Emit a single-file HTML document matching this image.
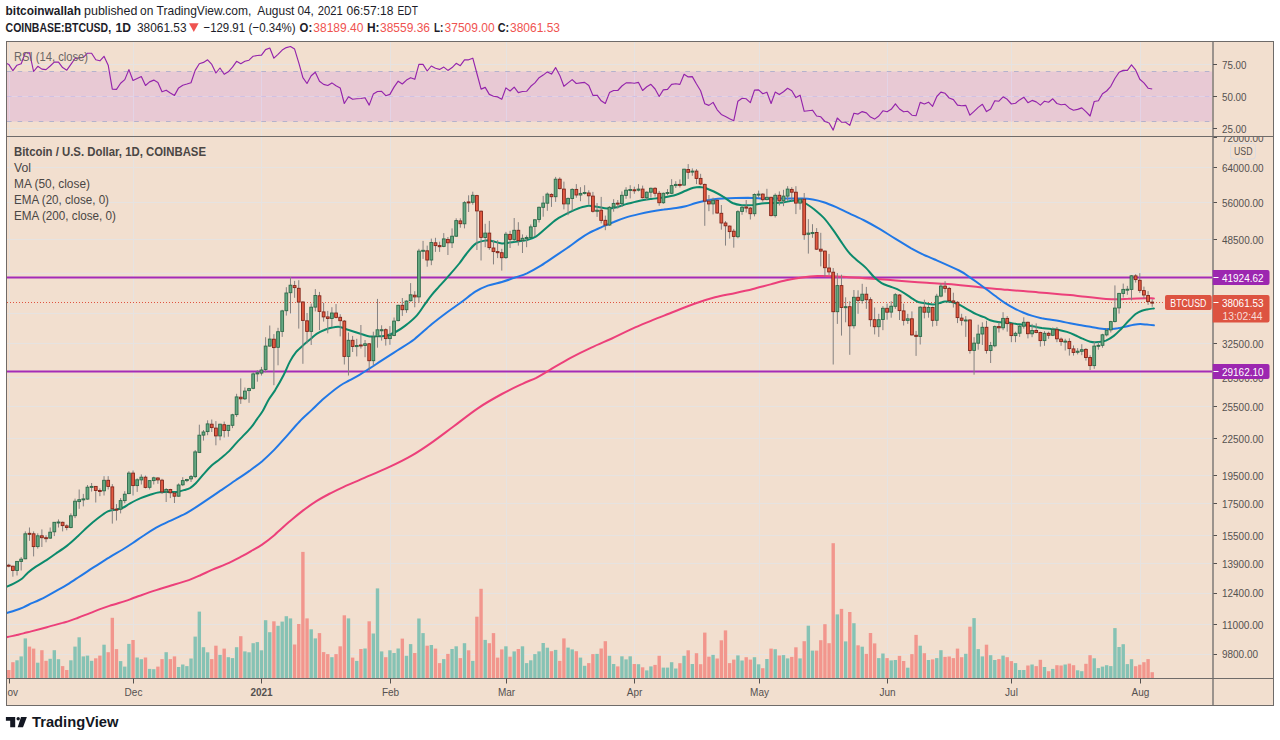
<!DOCTYPE html><html><head><meta charset="utf-8"><title>BTCUSD chart</title><style>html,body{margin:0;padding:0;background:#fff}svg{display:block}</style></head><body><svg width="1280" height="740" viewBox="0 0 1280 740" font-family="Liberation Sans, sans-serif">
<rect width="1280" height="740" fill="#fff"/>
<rect x="6.5" y="41.5" width="1267.0" height="664.0" fill="#f2dfcf"/>
<defs><clipPath id="cm"><rect x="7" y="137" width="1206.0" height="541.5"/></clipPath><clipPath id="cr"><rect x="7" y="42" width="1206.0" height="94.5"/></clipPath><clipPath id="ca"><rect x="1213.5" y="137" width="60" height="541.5"/></clipPath></defs>
<line x1="9.5" y1="42" x2="9.5" y2="678.5" stroke="#e6e3e1" stroke-width="1"/>
<line x1="133.5" y1="42" x2="133.5" y2="678.5" stroke="#e6e3e1" stroke-width="1"/>
<line x1="261.5" y1="42" x2="261.5" y2="678.5" stroke="#e6e3e1" stroke-width="1"/>
<line x1="390.5" y1="42" x2="390.5" y2="678.5" stroke="#e6e3e1" stroke-width="1"/>
<line x1="506.5" y1="42" x2="506.5" y2="678.5" stroke="#e6e3e1" stroke-width="1"/>
<line x1="634.5" y1="42" x2="634.5" y2="678.5" stroke="#e6e3e1" stroke-width="1"/>
<line x1="759.5" y1="42" x2="759.5" y2="678.5" stroke="#e6e3e1" stroke-width="1"/>
<line x1="887.5" y1="42" x2="887.5" y2="678.5" stroke="#e6e3e1" stroke-width="1"/>
<line x1="1011.5" y1="42" x2="1011.5" y2="678.5" stroke="#e6e3e1" stroke-width="1"/>
<line x1="1140.5" y1="42" x2="1140.5" y2="678.5" stroke="#e6e3e1" stroke-width="1"/>
<line x1="7" y1="64.5" x2="1213.5" y2="64.5" stroke="#e6e3e1" stroke-width="1"/>
<line x1="7" y1="96.5" x2="1213.5" y2="96.5" stroke="#e6e3e1" stroke-width="1"/>
<line x1="7" y1="128.5" x2="1213.5" y2="128.5" stroke="#e6e3e1" stroke-width="1"/>
<line x1="7" y1="167.5" x2="1213.5" y2="167.5" stroke="#e6e3e1" stroke-width="1"/>
<line x1="7" y1="202.5" x2="1213.5" y2="202.5" stroke="#e6e3e1" stroke-width="1"/>
<line x1="7" y1="239.5" x2="1213.5" y2="239.5" stroke="#e6e3e1" stroke-width="1"/>
<line x1="7" y1="273.5" x2="1213.5" y2="273.5" stroke="#e6e3e1" stroke-width="1"/>
<line x1="7" y1="313.5" x2="1213.5" y2="313.5" stroke="#e6e3e1" stroke-width="1"/>
<line x1="7" y1="343.5" x2="1213.5" y2="343.5" stroke="#e6e3e1" stroke-width="1"/>
<line x1="7" y1="377.5" x2="1213.5" y2="377.5" stroke="#e6e3e1" stroke-width="1"/>
<line x1="7" y1="406.5" x2="1213.5" y2="406.5" stroke="#e6e3e1" stroke-width="1"/>
<line x1="7" y1="438.5" x2="1213.5" y2="438.5" stroke="#e6e3e1" stroke-width="1"/>
<line x1="7" y1="475.5" x2="1213.5" y2="475.5" stroke="#e6e3e1" stroke-width="1"/>
<line x1="7" y1="503.5" x2="1213.5" y2="503.5" stroke="#e6e3e1" stroke-width="1"/>
<line x1="7" y1="535.5" x2="1213.5" y2="535.5" stroke="#e6e3e1" stroke-width="1"/>
<line x1="7" y1="563.5" x2="1213.5" y2="563.5" stroke="#e6e3e1" stroke-width="1"/>
<line x1="7" y1="593.5" x2="1213.5" y2="593.5" stroke="#e6e3e1" stroke-width="1"/>
<line x1="7" y1="624.5" x2="1213.5" y2="624.5" stroke="#e6e3e1" stroke-width="1"/>
<line x1="7" y1="654.5" x2="1213.5" y2="654.5" stroke="#e6e3e1" stroke-width="1"/>
<rect x="7" y="71.5" width="1205" height="50.0" fill="#e8c9d4"/>
<line x1="9.5" y1="71.5" x2="9.5" y2="121.5" stroke="#e3d3e6" stroke-width="1"/>
<line x1="133.5" y1="71.5" x2="133.5" y2="121.5" stroke="#e3d3e6" stroke-width="1"/>
<line x1="261.5" y1="71.5" x2="261.5" y2="121.5" stroke="#e3d3e6" stroke-width="1"/>
<line x1="390.5" y1="71.5" x2="390.5" y2="121.5" stroke="#e3d3e6" stroke-width="1"/>
<line x1="506.5" y1="71.5" x2="506.5" y2="121.5" stroke="#e3d3e6" stroke-width="1"/>
<line x1="634.5" y1="71.5" x2="634.5" y2="121.5" stroke="#e3d3e6" stroke-width="1"/>
<line x1="759.5" y1="71.5" x2="759.5" y2="121.5" stroke="#e3d3e6" stroke-width="1"/>
<line x1="887.5" y1="71.5" x2="887.5" y2="121.5" stroke="#e3d3e6" stroke-width="1"/>
<line x1="1011.5" y1="71.5" x2="1011.5" y2="121.5" stroke="#e3d3e6" stroke-width="1"/>
<line x1="1140.5" y1="71.5" x2="1140.5" y2="121.5" stroke="#e3d3e6" stroke-width="1"/>
<line x1="7" y1="96.5" x2="1212" y2="96.5" stroke="#e3d3e6" stroke-width="1"/>
<line x1="7" y1="71.5" x2="1212" y2="71.5" stroke="#b4b2cc" stroke-width="1" stroke-dasharray="4.6 6"/>
<line x1="7" y1="96.5" x2="1212" y2="96.5" stroke="#cfc0e3" stroke-width="1" stroke-dasharray="4.6 6"/>
<line x1="7" y1="121.5" x2="1212" y2="121.5" stroke="#b4b2cc" stroke-width="1" stroke-dasharray="4.6 6"/>
<polyline clip-path="url(#cr)" fill="none" stroke="#9424ab" stroke-width="1.15" stroke-linejoin="round" points="6.5,63.3 8.8,64.4 12.9,70.7 17.0,65.2 21.2,63.7 25.3,52.7 29.5,52.7 33.6,71.5 37.8,66.3 41.9,69.1 46.0,69.6 50.2,66.0 54.3,62.1 58.5,62.1 62.6,67.6 66.8,70.2 70.9,64.4 75.0,58.5 79.2,57.9 83.3,57.4 87.5,53.2 91.6,53.2 95.8,59.8 99.9,60.8 104.0,56.3 108.2,65.2 112.3,89.1 116.5,89.4 120.6,83.2 124.8,79.6 128.9,69.6 133.0,80.5 137.2,78.5 141.3,76.6 145.5,85.5 149.6,81.9 153.8,80.1 157.9,82.4 162.0,91.8 166.2,90.2 170.3,92.9 174.5,95.4 178.6,87.9 182.8,85.2 186.9,84.0 191.0,82.7 195.2,70.4 199.3,63.7 203.5,62.4 207.6,59.8 211.8,64.4 215.9,73.0 220.0,68.0 224.2,74.3 228.3,71.8 232.5,67.2 236.6,61.3 240.8,63.7 244.9,61.3 249.0,60.2 253.2,56.2 257.3,55.5 261.5,55.1 265.6,49.6 269.8,48.0 273.9,58.2 278.0,54.3 282.2,50.1 286.3,47.6 290.5,46.5 294.6,49.1 298.8,62.9 302.9,77.7 307.0,83.5 311.2,75.7 315.3,72.2 319.5,81.3 323.6,84.4 327.8,85.5 331.9,82.9 336.0,85.8 340.2,87.9 344.3,103.5 348.5,96.8 352.6,99.3 356.8,98.8 360.9,98.5 365.0,97.7 369.2,105.1 373.3,94.1 377.5,91.5 381.6,91.3 385.8,95.7 389.9,94.4 394.0,87.1 398.2,81.2 402.3,84.0 406.5,80.1 410.6,77.7 414.8,79.3 418.9,64.4 423.0,64.4 427.2,71.0 431.3,66.0 435.5,68.3 439.6,69.4 443.8,67.1 447.9,70.4 452.1,67.6 456.2,63.3 460.3,65.7 464.5,59.8 468.6,59.8 472.8,58.2 476.9,73.5 481.1,89.1 485.2,87.4 489.3,94.4 493.5,96.2 497.6,96.9 501.8,99.3 505.9,87.9 510.1,91.0 514.2,87.1 518.3,92.6 522.5,91.5 526.6,91.3 530.8,86.3 534.9,82.9 539.1,77.7 543.2,75.1 547.3,71.9 551.5,74.1 555.6,67.6 559.8,75.4 563.9,86.3 568.1,82.9 572.2,79.6 576.3,83.5 580.5,82.9 584.6,82.4 588.8,85.5 592.9,95.4 597.1,95.2 601.2,100.8 605.3,103.5 609.5,92.6 613.6,90.5 617.8,90.5 621.9,86.0 626.1,82.9 630.2,82.7 634.3,83.2 638.5,82.4 642.6,90.5 646.8,86.8 650.9,84.3 655.1,89.0 659.2,96.5 663.3,89.9 667.5,89.4 671.6,84.4 675.8,83.7 679.9,84.4 684.1,74.3 688.2,76.9 692.3,76.6 696.5,84.0 700.6,90.7 704.8,103.8 708.9,105.4 713.1,102.4 717.2,109.8 721.3,114.4 725.5,116.5 729.6,118.7 733.8,120.7 737.9,101.2 742.1,98.3 746.2,98.8 750.3,102.7 754.5,90.1 758.6,89.9 762.8,93.7 766.9,92.2 771.1,103.5 775.2,92.1 779.3,94.6 783.5,91.8 787.6,88.3 791.8,90.7 795.9,97.6 800.1,95.2 804.2,111.3 808.3,110.8 812.5,110.2 816.6,116.0 820.8,116.8 824.9,121.5 829.1,123.0 833.2,130.1 837.3,118.0 841.5,122.2 845.6,122.2 849.8,125.4 853.9,113.3 858.1,114.1 862.2,111.6 866.4,112.9 870.5,117.1 874.6,119.1 878.8,116.0 882.9,110.8 887.1,111.8 891.2,109.3 895.4,103.8 899.5,109.0 903.6,111.8 907.8,111.3 911.9,115.2 916.1,115.7 920.2,102.4 924.4,104.0 928.5,102.2 932.6,106.3 936.8,96.5 940.9,92.1 945.1,93.3 949.2,98.0 953.4,99.6 957.5,105.1 961.6,105.8 965.8,105.4 969.9,115.2 974.1,111.3 978.2,107.4 982.4,104.3 986.5,111.6 990.6,109.0 994.8,100.8 998.9,101.2 1003.1,96.8 1007.2,99.3 1011.4,104.0 1015.5,103.2 1019.6,99.9 1023.8,97.2 1027.9,102.7 1032.1,100.4 1036.2,101.9 1040.4,105.1 1044.5,101.2 1048.6,102.2 1052.8,98.8 1056.9,103.5 1061.1,104.8 1065.2,104.3 1069.4,108.2 1073.5,110.2 1077.6,109.4 1081.8,107.9 1085.9,111.6 1090.1,116.0 1094.2,101.5 1098.4,100.7 1102.5,93.7 1106.6,91.0 1110.8,86.3 1114.9,78.5 1119.1,72.2 1123.2,70.4 1127.4,70.4 1131.5,64.8 1135.6,69.9 1139.8,79.3 1143.9,82.9 1148.1,88.2 1152.2,89.0"/>
<g clip-path="url(#cm)">
<rect x="7.05" y="670.0" width="3.4" height="8.0" fill="#f2968d"/>
<rect x="11.19" y="662.2" width="3.4" height="15.8" fill="#f2968d"/>
<rect x="15.34" y="660.3" width="3.4" height="17.7" fill="#86c2b4"/>
<rect x="19.48" y="656.4" width="3.4" height="21.6" fill="#86c2b4"/>
<rect x="23.62" y="638.4" width="3.4" height="39.6" fill="#86c2b4"/>
<rect x="27.77" y="646.6" width="3.4" height="31.4" fill="#f2968d"/>
<rect x="31.91" y="648.6" width="3.4" height="29.4" fill="#f2968d"/>
<rect x="36.05" y="662.7" width="3.4" height="15.3" fill="#86c2b4"/>
<rect x="40.19" y="650.2" width="3.4" height="27.8" fill="#f2968d"/>
<rect x="44.34" y="660.8" width="3.4" height="17.2" fill="#f2968d"/>
<rect x="48.48" y="658.8" width="3.4" height="19.2" fill="#86c2b4"/>
<rect x="52.62" y="650.2" width="3.4" height="27.8" fill="#86c2b4"/>
<rect x="56.77" y="659.2" width="3.4" height="18.8" fill="#86c2b4"/>
<rect x="60.91" y="666.1" width="3.4" height="11.9" fill="#f2968d"/>
<rect x="65.05" y="670.0" width="3.4" height="8.0" fill="#f2968d"/>
<rect x="69.19" y="660.3" width="3.4" height="17.7" fill="#86c2b4"/>
<rect x="73.34" y="646.6" width="3.4" height="31.4" fill="#86c2b4"/>
<rect x="77.48" y="637.3" width="3.4" height="40.7" fill="#86c2b4"/>
<rect x="81.62" y="656.4" width="3.4" height="21.6" fill="#86c2b4"/>
<rect x="85.77" y="655.6" width="3.4" height="22.4" fill="#86c2b4"/>
<rect x="89.91" y="660.8" width="3.4" height="17.2" fill="#86c2b4"/>
<rect x="94.05" y="658.3" width="3.4" height="19.7" fill="#f2968d"/>
<rect x="98.20" y="655.6" width="3.4" height="22.4" fill="#f2968d"/>
<rect x="102.34" y="644.7" width="3.4" height="33.3" fill="#86c2b4"/>
<rect x="106.48" y="652.2" width="3.4" height="25.8" fill="#f2968d"/>
<rect x="110.62" y="617.8" width="3.4" height="60.2" fill="#f2968d"/>
<rect x="114.77" y="649.1" width="3.4" height="28.9" fill="#f2968d"/>
<rect x="118.91" y="661.1" width="3.4" height="16.9" fill="#86c2b4"/>
<rect x="123.05" y="666.6" width="3.4" height="11.4" fill="#86c2b4"/>
<rect x="127.20" y="643.9" width="3.4" height="34.1" fill="#86c2b4"/>
<rect x="131.34" y="640.0" width="3.4" height="38.0" fill="#f2968d"/>
<rect x="135.48" y="657.5" width="3.4" height="20.5" fill="#86c2b4"/>
<rect x="139.63" y="659.2" width="3.4" height="18.8" fill="#86c2b4"/>
<rect x="143.77" y="657.5" width="3.4" height="20.5" fill="#f2968d"/>
<rect x="147.91" y="668.9" width="3.4" height="9.1" fill="#86c2b4"/>
<rect x="152.06" y="669.2" width="3.4" height="8.8" fill="#86c2b4"/>
<rect x="156.20" y="666.6" width="3.4" height="11.4" fill="#f2968d"/>
<rect x="160.34" y="659.1" width="3.4" height="18.9" fill="#f2968d"/>
<rect x="164.48" y="652.2" width="3.4" height="25.8" fill="#86c2b4"/>
<rect x="168.63" y="659.1" width="3.4" height="18.9" fill="#f2968d"/>
<rect x="172.77" y="656.4" width="3.4" height="21.6" fill="#f2968d"/>
<rect x="176.91" y="667.0" width="3.4" height="11.0" fill="#86c2b4"/>
<rect x="181.06" y="664.5" width="3.4" height="13.5" fill="#86c2b4"/>
<rect x="185.20" y="666.1" width="3.4" height="11.9" fill="#86c2b4"/>
<rect x="189.34" y="658.5" width="3.4" height="19.5" fill="#86c2b4"/>
<rect x="193.49" y="636.6" width="3.4" height="41.4" fill="#86c2b4"/>
<rect x="197.63" y="611.6" width="3.4" height="66.4" fill="#86c2b4"/>
<rect x="201.77" y="647.2" width="3.4" height="30.8" fill="#86c2b4"/>
<rect x="205.91" y="652.3" width="3.4" height="25.7" fill="#86c2b4"/>
<rect x="210.06" y="659.1" width="3.4" height="18.9" fill="#f2968d"/>
<rect x="214.20" y="645.7" width="3.4" height="32.3" fill="#f2968d"/>
<rect x="218.34" y="654.9" width="3.4" height="23.1" fill="#86c2b4"/>
<rect x="222.49" y="648.6" width="3.4" height="29.4" fill="#f2968d"/>
<rect x="226.63" y="657.2" width="3.4" height="20.8" fill="#86c2b4"/>
<rect x="230.77" y="658.1" width="3.4" height="19.9" fill="#86c2b4"/>
<rect x="234.91" y="647.2" width="3.4" height="30.8" fill="#86c2b4"/>
<rect x="239.06" y="636.2" width="3.4" height="41.8" fill="#f2968d"/>
<rect x="243.20" y="651.4" width="3.4" height="26.6" fill="#86c2b4"/>
<rect x="247.34" y="652.3" width="3.4" height="25.7" fill="#86c2b4"/>
<rect x="251.49" y="643.2" width="3.4" height="34.8" fill="#86c2b4"/>
<rect x="255.63" y="642.1" width="3.4" height="35.9" fill="#86c2b4"/>
<rect x="259.77" y="650.3" width="3.4" height="27.7" fill="#86c2b4"/>
<rect x="263.92" y="620.2" width="3.4" height="57.8" fill="#86c2b4"/>
<rect x="268.06" y="632.2" width="3.4" height="45.8" fill="#86c2b4"/>
<rect x="272.20" y="621.3" width="3.4" height="56.7" fill="#f2968d"/>
<rect x="276.34" y="625.8" width="3.4" height="52.2" fill="#86c2b4"/>
<rect x="280.49" y="621.6" width="3.4" height="56.4" fill="#86c2b4"/>
<rect x="284.63" y="616.2" width="3.4" height="61.8" fill="#86c2b4"/>
<rect x="288.77" y="618.4" width="3.4" height="59.6" fill="#86c2b4"/>
<rect x="292.92" y="644.5" width="3.4" height="33.5" fill="#f2968d"/>
<rect x="297.06" y="624.0" width="3.4" height="54.0" fill="#f2968d"/>
<rect x="301.20" y="551.9" width="3.4" height="126.1" fill="#f2968d"/>
<rect x="305.35" y="618.4" width="3.4" height="59.6" fill="#f2968d"/>
<rect x="309.49" y="629.3" width="3.4" height="48.7" fill="#86c2b4"/>
<rect x="313.63" y="638.4" width="3.4" height="39.6" fill="#86c2b4"/>
<rect x="317.77" y="633.1" width="3.4" height="44.9" fill="#f2968d"/>
<rect x="321.92" y="652.1" width="3.4" height="25.9" fill="#f2968d"/>
<rect x="326.06" y="654.1" width="3.4" height="23.9" fill="#f2968d"/>
<rect x="330.20" y="657.2" width="3.4" height="20.8" fill="#86c2b4"/>
<rect x="334.35" y="654.1" width="3.4" height="23.9" fill="#f2968d"/>
<rect x="338.49" y="646.3" width="3.4" height="31.7" fill="#f2968d"/>
<rect x="342.63" y="615.3" width="3.4" height="62.7" fill="#f2968d"/>
<rect x="346.78" y="618.4" width="3.4" height="59.6" fill="#86c2b4"/>
<rect x="350.92" y="657.6" width="3.4" height="20.4" fill="#f2968d"/>
<rect x="355.06" y="660.9" width="3.4" height="17.1" fill="#86c2b4"/>
<rect x="359.20" y="649.0" width="3.4" height="29.0" fill="#f2968d"/>
<rect x="363.35" y="648.5" width="3.4" height="29.5" fill="#86c2b4"/>
<rect x="367.49" y="621.3" width="3.4" height="56.7" fill="#f2968d"/>
<rect x="371.63" y="633.5" width="3.4" height="44.5" fill="#86c2b4"/>
<rect x="375.78" y="588.4" width="3.4" height="89.6" fill="#86c2b4"/>
<rect x="379.92" y="651.4" width="3.4" height="26.6" fill="#86c2b4"/>
<rect x="384.06" y="657.2" width="3.4" height="20.8" fill="#f2968d"/>
<rect x="388.21" y="650.3" width="3.4" height="27.7" fill="#86c2b4"/>
<rect x="392.35" y="653.0" width="3.4" height="25.0" fill="#86c2b4"/>
<rect x="396.49" y="648.5" width="3.4" height="29.5" fill="#86c2b4"/>
<rect x="400.63" y="638.6" width="3.4" height="39.4" fill="#f2968d"/>
<rect x="404.78" y="655.8" width="3.4" height="22.2" fill="#86c2b4"/>
<rect x="408.92" y="644.1" width="3.4" height="33.9" fill="#86c2b4"/>
<rect x="413.06" y="653.0" width="3.4" height="25.0" fill="#f2968d"/>
<rect x="417.21" y="618.5" width="3.4" height="59.5" fill="#86c2b4"/>
<rect x="421.35" y="633.1" width="3.4" height="44.9" fill="#86c2b4"/>
<rect x="425.49" y="645.7" width="3.4" height="32.3" fill="#f2968d"/>
<rect x="429.64" y="645.0" width="3.4" height="33.0" fill="#86c2b4"/>
<rect x="433.78" y="648.6" width="3.4" height="29.4" fill="#f2968d"/>
<rect x="437.92" y="663.1" width="3.4" height="14.9" fill="#f2968d"/>
<rect x="442.06" y="659.1" width="3.4" height="18.9" fill="#86c2b4"/>
<rect x="446.21" y="653.9" width="3.4" height="24.1" fill="#f2968d"/>
<rect x="450.35" y="649.0" width="3.4" height="29.0" fill="#86c2b4"/>
<rect x="454.49" y="646.3" width="3.4" height="31.7" fill="#86c2b4"/>
<rect x="458.64" y="658.1" width="3.4" height="19.9" fill="#f2968d"/>
<rect x="462.78" y="643.2" width="3.4" height="34.8" fill="#86c2b4"/>
<rect x="466.92" y="650.3" width="3.4" height="27.7" fill="#f2968d"/>
<rect x="471.07" y="660.9" width="3.4" height="17.1" fill="#86c2b4"/>
<rect x="475.21" y="616.7" width="3.4" height="61.3" fill="#f2968d"/>
<rect x="479.35" y="588.8" width="3.4" height="89.2" fill="#f2968d"/>
<rect x="483.50" y="639.9" width="3.4" height="38.1" fill="#86c2b4"/>
<rect x="487.64" y="643.2" width="3.4" height="34.8" fill="#f2968d"/>
<rect x="491.78" y="633.1" width="3.4" height="44.9" fill="#f2968d"/>
<rect x="495.92" y="657.6" width="3.4" height="20.4" fill="#f2968d"/>
<rect x="500.07" y="649.4" width="3.4" height="28.6" fill="#f2968d"/>
<rect x="504.21" y="646.3" width="3.4" height="31.7" fill="#86c2b4"/>
<rect x="508.35" y="656.7" width="3.4" height="21.3" fill="#f2968d"/>
<rect x="512.50" y="651.4" width="3.4" height="26.6" fill="#86c2b4"/>
<rect x="516.64" y="649.0" width="3.4" height="29.0" fill="#f2968d"/>
<rect x="520.78" y="646.3" width="3.4" height="31.7" fill="#86c2b4"/>
<rect x="524.92" y="663.1" width="3.4" height="14.9" fill="#86c2b4"/>
<rect x="529.07" y="660.3" width="3.4" height="17.7" fill="#86c2b4"/>
<rect x="533.21" y="654.1" width="3.4" height="23.9" fill="#86c2b4"/>
<rect x="537.35" y="651.4" width="3.4" height="26.6" fill="#86c2b4"/>
<rect x="541.50" y="643.0" width="3.4" height="35.0" fill="#86c2b4"/>
<rect x="545.64" y="647.7" width="3.4" height="30.3" fill="#86c2b4"/>
<rect x="549.78" y="651.2" width="3.4" height="26.8" fill="#f2968d"/>
<rect x="553.93" y="649.9" width="3.4" height="28.1" fill="#86c2b4"/>
<rect x="558.07" y="660.9" width="3.4" height="17.1" fill="#f2968d"/>
<rect x="562.21" y="638.4" width="3.4" height="39.6" fill="#f2968d"/>
<rect x="566.35" y="647.6" width="3.4" height="30.4" fill="#86c2b4"/>
<rect x="570.50" y="649.4" width="3.4" height="28.6" fill="#86c2b4"/>
<rect x="574.64" y="651.2" width="3.4" height="26.8" fill="#f2968d"/>
<rect x="578.78" y="657.6" width="3.4" height="20.4" fill="#86c2b4"/>
<rect x="582.93" y="665.8" width="3.4" height="12.2" fill="#86c2b4"/>
<rect x="587.07" y="663.1" width="3.4" height="14.9" fill="#f2968d"/>
<rect x="591.21" y="654.1" width="3.4" height="23.9" fill="#f2968d"/>
<rect x="595.36" y="653.9" width="3.4" height="24.1" fill="#86c2b4"/>
<rect x="599.50" y="648.5" width="3.4" height="29.5" fill="#f2968d"/>
<rect x="603.64" y="641.2" width="3.4" height="36.8" fill="#f2968d"/>
<rect x="607.78" y="655.8" width="3.4" height="22.2" fill="#86c2b4"/>
<rect x="611.93" y="664.0" width="3.4" height="14.0" fill="#86c2b4"/>
<rect x="616.07" y="666.4" width="3.4" height="11.6" fill="#f2968d"/>
<rect x="620.21" y="656.3" width="3.4" height="21.7" fill="#86c2b4"/>
<rect x="624.36" y="659.4" width="3.4" height="18.6" fill="#86c2b4"/>
<rect x="628.50" y="656.3" width="3.4" height="21.7" fill="#86c2b4"/>
<rect x="632.64" y="664.0" width="3.4" height="14.0" fill="#f2968d"/>
<rect x="636.79" y="664.2" width="3.4" height="13.8" fill="#86c2b4"/>
<rect x="640.93" y="667.3" width="3.4" height="10.7" fill="#f2968d"/>
<rect x="645.07" y="670.4" width="3.4" height="7.6" fill="#86c2b4"/>
<rect x="649.21" y="666.4" width="3.4" height="11.6" fill="#86c2b4"/>
<rect x="653.36" y="664.9" width="3.4" height="13.1" fill="#f2968d"/>
<rect x="657.50" y="655.8" width="3.4" height="22.2" fill="#f2968d"/>
<rect x="661.64" y="667.6" width="3.4" height="10.4" fill="#86c2b4"/>
<rect x="665.79" y="667.6" width="3.4" height="10.4" fill="#86c2b4"/>
<rect x="669.93" y="662.2" width="3.4" height="15.8" fill="#86c2b4"/>
<rect x="674.07" y="668.5" width="3.4" height="9.5" fill="#86c2b4"/>
<rect x="678.22" y="663.2" width="3.4" height="14.8" fill="#f2968d"/>
<rect x="682.36" y="655.8" width="3.4" height="22.2" fill="#86c2b4"/>
<rect x="686.50" y="650.3" width="3.4" height="27.7" fill="#f2968d"/>
<rect x="690.64" y="664.0" width="3.4" height="14.0" fill="#86c2b4"/>
<rect x="694.79" y="653.2" width="3.4" height="24.8" fill="#f2968d"/>
<rect x="698.93" y="664.2" width="3.4" height="13.8" fill="#f2968d"/>
<rect x="703.07" y="632.6" width="3.4" height="45.4" fill="#f2968d"/>
<rect x="707.22" y="656.7" width="3.4" height="21.3" fill="#f2968d"/>
<rect x="711.36" y="654.9" width="3.4" height="23.1" fill="#86c2b4"/>
<rect x="715.50" y="658.5" width="3.4" height="19.5" fill="#f2968d"/>
<rect x="719.65" y="640.3" width="3.4" height="37.7" fill="#f2968d"/>
<rect x="723.79" y="630.4" width="3.4" height="47.6" fill="#f2968d"/>
<rect x="727.93" y="663.1" width="3.4" height="14.9" fill="#f2968d"/>
<rect x="732.07" y="659.6" width="3.4" height="18.4" fill="#f2968d"/>
<rect x="736.22" y="655.4" width="3.4" height="22.6" fill="#86c2b4"/>
<rect x="740.36" y="660.5" width="3.4" height="17.5" fill="#86c2b4"/>
<rect x="744.50" y="657.2" width="3.4" height="20.8" fill="#f2968d"/>
<rect x="748.65" y="659.6" width="3.4" height="18.4" fill="#f2968d"/>
<rect x="752.79" y="657.2" width="3.4" height="20.8" fill="#86c2b4"/>
<rect x="756.93" y="664.3" width="3.4" height="13.7" fill="#86c2b4"/>
<rect x="761.08" y="668.2" width="3.4" height="9.8" fill="#f2968d"/>
<rect x="765.22" y="659.0" width="3.4" height="19.0" fill="#86c2b4"/>
<rect x="769.36" y="648.6" width="3.4" height="29.4" fill="#f2968d"/>
<rect x="773.50" y="649.2" width="3.4" height="28.8" fill="#86c2b4"/>
<rect x="777.65" y="655.5" width="3.4" height="22.5" fill="#f2968d"/>
<rect x="781.79" y="655.1" width="3.4" height="22.9" fill="#86c2b4"/>
<rect x="785.93" y="658.4" width="3.4" height="19.6" fill="#86c2b4"/>
<rect x="790.08" y="656.9" width="3.4" height="21.1" fill="#f2968d"/>
<rect x="794.22" y="647.3" width="3.4" height="30.7" fill="#f2968d"/>
<rect x="798.36" y="658.4" width="3.4" height="19.6" fill="#86c2b4"/>
<rect x="802.51" y="641.2" width="3.4" height="36.8" fill="#f2968d"/>
<rect x="806.65" y="625.7" width="3.4" height="52.3" fill="#86c2b4"/>
<rect x="810.79" y="650.6" width="3.4" height="27.4" fill="#86c2b4"/>
<rect x="814.93" y="650.6" width="3.4" height="27.4" fill="#f2968d"/>
<rect x="819.08" y="640.2" width="3.4" height="37.8" fill="#f2968d"/>
<rect x="823.22" y="624.2" width="3.4" height="53.8" fill="#f2968d"/>
<rect x="827.36" y="643.2" width="3.4" height="34.8" fill="#f2968d"/>
<rect x="831.51" y="543.2" width="3.4" height="134.8" fill="#f2968d"/>
<rect x="835.65" y="614.4" width="3.4" height="63.6" fill="#86c2b4"/>
<rect x="839.79" y="608.9" width="3.4" height="69.1" fill="#f2968d"/>
<rect x="843.94" y="641.4" width="3.4" height="36.6" fill="#86c2b4"/>
<rect x="848.08" y="612.0" width="3.4" height="66.0" fill="#f2968d"/>
<rect x="852.22" y="623.2" width="3.4" height="54.8" fill="#86c2b4"/>
<rect x="856.36" y="645.3" width="3.4" height="32.7" fill="#f2968d"/>
<rect x="860.51" y="646.7" width="3.4" height="31.3" fill="#86c2b4"/>
<rect x="864.65" y="653.9" width="3.4" height="24.1" fill="#f2968d"/>
<rect x="868.79" y="633.0" width="3.4" height="45.0" fill="#f2968d"/>
<rect x="872.94" y="643.4" width="3.4" height="34.6" fill="#f2968d"/>
<rect x="877.08" y="658.1" width="3.4" height="19.9" fill="#86c2b4"/>
<rect x="881.22" y="653.5" width="3.4" height="24.5" fill="#86c2b4"/>
<rect x="885.37" y="658.1" width="3.4" height="19.9" fill="#f2968d"/>
<rect x="889.51" y="660.4" width="3.4" height="17.6" fill="#86c2b4"/>
<rect x="893.65" y="660.0" width="3.4" height="18.0" fill="#86c2b4"/>
<rect x="897.79" y="655.9" width="3.4" height="22.1" fill="#f2968d"/>
<rect x="901.94" y="661.0" width="3.4" height="17.0" fill="#f2968d"/>
<rect x="906.08" y="667.7" width="3.4" height="10.3" fill="#86c2b4"/>
<rect x="910.22" y="654.1" width="3.4" height="23.9" fill="#f2968d"/>
<rect x="914.37" y="634.9" width="3.4" height="43.1" fill="#f2968d"/>
<rect x="918.51" y="645.7" width="3.4" height="32.3" fill="#86c2b4"/>
<rect x="922.65" y="653.2" width="3.4" height="24.8" fill="#f2968d"/>
<rect x="926.80" y="660.0" width="3.4" height="18.0" fill="#86c2b4"/>
<rect x="930.94" y="659.4" width="3.4" height="18.6" fill="#f2968d"/>
<rect x="935.08" y="658.1" width="3.4" height="19.9" fill="#86c2b4"/>
<rect x="939.22" y="650.2" width="3.4" height="27.8" fill="#86c2b4"/>
<rect x="943.37" y="656.9" width="3.4" height="21.1" fill="#f2968d"/>
<rect x="947.51" y="656.5" width="3.4" height="21.5" fill="#f2968d"/>
<rect x="951.65" y="658.1" width="3.4" height="19.9" fill="#f2968d"/>
<rect x="955.80" y="648.6" width="3.4" height="29.4" fill="#f2968d"/>
<rect x="959.94" y="657.2" width="3.4" height="20.8" fill="#f2968d"/>
<rect x="964.08" y="653.8" width="3.4" height="24.2" fill="#86c2b4"/>
<rect x="968.23" y="626.7" width="3.4" height="51.3" fill="#f2968d"/>
<rect x="972.37" y="618.1" width="3.4" height="59.9" fill="#86c2b4"/>
<rect x="976.51" y="649.1" width="3.4" height="28.9" fill="#86c2b4"/>
<rect x="980.65" y="656.4" width="3.4" height="21.6" fill="#86c2b4"/>
<rect x="984.80" y="644.7" width="3.4" height="33.3" fill="#f2968d"/>
<rect x="988.94" y="655.2" width="3.4" height="22.8" fill="#86c2b4"/>
<rect x="993.08" y="660.0" width="3.4" height="18.0" fill="#86c2b4"/>
<rect x="997.23" y="659.1" width="3.4" height="18.9" fill="#f2968d"/>
<rect x="1001.37" y="655.6" width="3.4" height="22.4" fill="#86c2b4"/>
<rect x="1005.51" y="657.2" width="3.4" height="20.8" fill="#f2968d"/>
<rect x="1009.66" y="661.1" width="3.4" height="16.9" fill="#f2968d"/>
<rect x="1013.80" y="663.1" width="3.4" height="14.9" fill="#86c2b4"/>
<rect x="1017.94" y="670.0" width="3.4" height="8.0" fill="#86c2b4"/>
<rect x="1022.08" y="670.0" width="3.4" height="8.0" fill="#86c2b4"/>
<rect x="1026.23" y="665.5" width="3.4" height="12.5" fill="#f2968d"/>
<rect x="1030.37" y="664.5" width="3.4" height="13.5" fill="#86c2b4"/>
<rect x="1034.51" y="666.1" width="3.4" height="11.9" fill="#f2968d"/>
<rect x="1038.66" y="659.8" width="3.4" height="18.2" fill="#f2968d"/>
<rect x="1042.80" y="667.0" width="3.4" height="11.0" fill="#86c2b4"/>
<rect x="1046.94" y="671.2" width="3.4" height="6.8" fill="#f2968d"/>
<rect x="1051.09" y="668.9" width="3.4" height="9.1" fill="#86c2b4"/>
<rect x="1055.23" y="665.2" width="3.4" height="12.8" fill="#f2968d"/>
<rect x="1059.37" y="665.5" width="3.4" height="12.5" fill="#f2968d"/>
<rect x="1063.51" y="664.5" width="3.4" height="13.5" fill="#86c2b4"/>
<rect x="1067.66" y="663.6" width="3.4" height="14.4" fill="#f2968d"/>
<rect x="1071.80" y="665.2" width="3.4" height="12.8" fill="#f2968d"/>
<rect x="1075.94" y="670.3" width="3.4" height="7.7" fill="#86c2b4"/>
<rect x="1080.09" y="671.2" width="3.4" height="6.8" fill="#86c2b4"/>
<rect x="1084.23" y="663.8" width="3.4" height="14.2" fill="#f2968d"/>
<rect x="1088.37" y="655.2" width="3.4" height="22.8" fill="#f2968d"/>
<rect x="1092.52" y="658.3" width="3.4" height="19.7" fill="#86c2b4"/>
<rect x="1096.66" y="668.1" width="3.4" height="9.9" fill="#86c2b4"/>
<rect x="1100.80" y="666.6" width="3.4" height="11.4" fill="#86c2b4"/>
<rect x="1104.94" y="665.2" width="3.4" height="12.8" fill="#86c2b4"/>
<rect x="1109.09" y="666.1" width="3.4" height="11.9" fill="#86c2b4"/>
<rect x="1113.23" y="628.1" width="3.4" height="49.9" fill="#86c2b4"/>
<rect x="1117.37" y="647.0" width="3.4" height="31.0" fill="#86c2b4"/>
<rect x="1121.52" y="644.2" width="3.4" height="33.8" fill="#86c2b4"/>
<rect x="1125.66" y="664.1" width="3.4" height="13.9" fill="#86c2b4"/>
<rect x="1129.80" y="659.2" width="3.4" height="18.8" fill="#86c2b4"/>
<rect x="1133.95" y="666.2" width="3.4" height="11.8" fill="#f2968d"/>
<rect x="1138.09" y="664.7" width="3.4" height="13.3" fill="#f2968d"/>
<rect x="1142.23" y="662.2" width="3.4" height="15.8" fill="#f2968d"/>
<rect x="1146.38" y="659.1" width="3.4" height="18.9" fill="#f2968d"/>
<rect x="1150.52" y="672.2" width="3.4" height="5.8" fill="#f2968d"/>
</g>
<line x1="7" y1="277.4" x2="1213.5" y2="277.4" stroke="#a32cb8" stroke-width="2"/>
<line x1="7" y1="371.5" x2="1213.5" y2="371.5" stroke="#a32cb8" stroke-width="2"/>
<line x1="7" y1="302.5" x2="1213.5" y2="302.5" stroke="#e0533f" stroke-width="1" stroke-dasharray="1 2"/>
<g clip-path="url(#cm)" fill="none" stroke-width="2" stroke-linejoin="round" stroke-linecap="round">
<path d="M6.2,637.3C7.8,637.0 12.8,635.9 15.6,635.3C18.5,634.6 20.8,634.1 23.4,633.4C26.0,632.8 27.3,632.4 31.2,631.4C35.2,630.3 41.7,628.6 46.9,627.2C52.1,625.7 58.9,623.9 62.5,622.9C66.1,621.8 66.1,622.0 68.8,621.1C71.4,620.3 74.0,619.3 78.1,617.8C82.3,616.2 88.5,613.6 93.8,611.6C99.0,609.6 104.2,607.6 109.4,605.9C114.6,604.1 121.1,602.4 125.0,601.1C128.9,599.8 130.2,599.2 132.8,598.3C135.4,597.4 136.7,596.8 140.6,595.5C144.5,594.1 151.0,591.8 156.2,590.1C161.5,588.4 166.5,587.0 171.9,585.3C177.3,583.7 183.9,581.8 188.8,580.1C193.6,578.4 197.1,576.7 200.9,575.0C204.8,573.3 207.6,571.7 211.9,569.9C216.2,568.0 221.6,566.1 226.5,563.9C231.4,561.7 236.8,558.9 241.1,556.7C245.4,554.5 248.5,552.6 252.0,550.5C255.5,548.5 258.3,547.2 262.1,544.6C265.8,542.0 270.2,538.6 274.6,534.9C279.0,531.2 284.1,526.2 288.6,522.3C293.2,518.5 296.9,515.2 301.6,511.6C306.3,508.0 312.0,503.9 316.8,500.9C321.5,497.9 325.5,495.9 330.0,493.5C334.5,491.2 338.0,489.4 343.8,486.8C349.5,484.2 356.9,481.2 364.4,477.9C371.8,474.7 380.4,471.2 388.4,467.4C396.5,463.6 405.1,459.4 412.5,455.1C420.0,450.8 426.3,446.4 433.1,441.6C440.0,436.8 446.3,431.8 453.8,426.3C461.2,420.7 469.8,413.7 477.8,408.3C485.8,402.9 494.4,398.1 501.9,394.0C509.3,389.9 516.8,386.5 522.5,383.8C528.2,381.0 531.7,380.1 536.3,377.8C540.8,375.4 544.3,373.1 550.0,369.8C555.7,366.5 563.8,361.6 570.6,357.9C577.5,354.2 584.4,350.8 591.3,347.6C598.1,344.4 605.0,341.6 611.9,338.5C618.8,335.3 625.6,331.8 632.5,328.7C639.4,325.6 646.3,322.8 653.1,319.9C660.0,317.1 666.9,314.6 673.8,311.8C680.6,309.1 687.5,306.1 694.4,303.7C701.3,301.2 708.1,299.0 715.0,297.2C721.9,295.4 729.3,294.3 735.6,292.9C742.0,291.6 747.2,290.5 753.1,289.0C758.9,287.6 765.1,285.8 770.6,284.4C776.2,282.9 781.0,281.4 786.2,280.3C791.5,279.1 796.7,278.2 801.9,277.5C807.1,276.8 812.3,276.3 817.5,276.1C822.7,275.9 827.9,276.1 833.1,276.3C838.3,276.5 843.5,277.0 848.8,277.3C854.0,277.6 859.2,277.8 864.4,278.2C869.6,278.5 874.8,278.9 880.0,279.2C885.2,279.6 890.4,280.1 895.6,280.5C900.8,280.9 906.0,281.3 911.2,281.7C916.5,282.1 921.5,282.4 926.9,282.8C932.3,283.1 938.1,283.4 943.8,283.8C949.4,284.2 955.2,284.7 960.6,285.2C966.0,285.7 971.0,286.2 976.2,286.7C981.5,287.3 986.7,287.9 991.9,288.4C997.1,288.9 1002.3,289.4 1007.5,289.8C1012.7,290.3 1017.9,290.7 1023.1,291.1C1028.3,291.5 1033.5,291.9 1038.8,292.4C1044.0,292.8 1049.2,293.3 1054.4,293.7C1059.6,294.2 1064.8,294.6 1070.0,295.1C1075.2,295.6 1080.4,296.3 1085.6,296.8C1090.8,297.4 1096.9,298.0 1101.2,298.4C1105.6,298.8 1108.6,299.0 1111.6,299.2C1114.5,299.3 1116.0,299.3 1118.7,299.2C1121.5,299.2 1125.0,298.9 1128.1,298.8C1131.2,298.6 1134.4,298.5 1137.5,298.4C1140.6,298.3 1144.1,298.3 1146.9,298.3C1149.6,298.3 1152.7,298.4 1153.9,298.4" stroke="#ec407a"/>
<path d="M6.2,613.1C7.8,612.6 12.8,611.2 15.6,610.2C18.5,609.3 20.8,608.4 23.4,607.3C26.0,606.2 28.6,604.7 31.2,603.4C33.9,602.2 36.5,601.3 39.1,600.0C41.7,598.8 44.0,597.7 46.9,596.1C49.7,594.6 52.9,592.8 56.2,590.9C59.6,589.0 63.5,587.0 67.2,584.7C70.8,582.5 74.7,579.8 78.1,577.5C81.5,575.3 84.2,573.5 87.5,571.3C90.8,569.1 94.4,566.9 98.0,564.6C101.7,562.2 105.4,559.8 109.4,557.4C113.3,554.9 118.0,552.4 121.9,550.0C125.8,547.6 129.2,545.4 132.8,543.0C136.5,540.6 139.8,538.0 143.8,535.5C147.7,532.9 152.1,530.1 156.2,527.7C160.4,525.4 164.6,523.4 168.8,521.4C172.9,519.4 177.6,517.5 181.2,515.7C184.9,513.9 183.7,515.1 190.6,510.7C197.6,506.3 215.4,494.1 222.8,489.1C230.3,484.0 230.9,483.5 235.3,480.5C239.7,477.5 244.9,474.1 249.4,470.9C253.8,467.7 257.7,464.9 261.9,461.4C266.0,457.8 270.2,453.9 274.4,449.6C278.5,445.4 282.7,440.5 286.9,435.8C291.0,431.2 295.2,426.0 299.4,421.7C303.5,417.4 307.7,413.9 311.9,409.9C316.0,406.0 319.7,402.1 324.4,398.1C329.1,394.0 335.8,388.6 340.0,385.7C344.2,382.7 346.1,382.2 349.4,380.4C352.6,378.6 356.1,376.8 359.5,374.8C362.9,372.8 366.1,370.7 369.7,368.4C373.3,366.1 376.5,363.9 381.1,360.9C385.7,357.9 391.6,354.1 397.2,350.5C402.7,346.9 408.6,343.6 414.4,339.2C420.1,334.8 426.1,328.8 431.6,324.3C437.0,319.8 442.2,315.9 447.2,312.2C452.1,308.6 456.6,305.7 461.2,302.3C465.9,298.9 470.9,294.4 475.3,291.6C479.7,288.9 483.4,287.2 487.8,285.6C492.2,284.0 497.4,283.3 501.9,282.0C506.3,280.7 510.2,279.2 514.4,277.8C518.5,276.3 522.4,275.3 526.9,273.3C531.3,271.2 536.0,268.6 540.9,265.6C545.9,262.6 551.9,258.2 556.6,255.1C561.2,252.0 564.9,249.5 568.8,246.9C572.6,244.2 576.0,241.5 579.4,239.2C582.7,236.9 585.1,235.2 588.8,233.2C592.4,231.2 597.1,229.2 601.2,227.3C605.4,225.5 609.6,223.6 613.8,222.0C617.9,220.3 622.1,218.7 626.2,217.4C630.4,216.1 634.6,215.1 638.8,214.1C642.9,213.1 647.1,212.2 651.2,211.4C655.4,210.6 659.6,210.0 663.8,209.5C667.9,208.9 672.6,208.5 676.2,208.0C679.9,207.5 682.5,207.1 685.6,206.3C688.8,205.5 691.9,204.2 695.0,203.3C698.1,202.4 701.2,201.6 704.4,200.9C707.5,200.2 710.6,199.7 713.8,199.3C716.9,198.9 719.5,198.7 723.1,198.5C726.8,198.3 731.5,198.1 735.6,198.0C739.8,197.9 744.0,197.8 748.1,197.8C752.3,197.9 756.9,198.2 760.6,198.4C764.4,198.5 766.4,198.6 770.6,198.7C774.9,198.7 781.0,198.5 786.2,198.5C791.5,198.5 797.4,198.4 801.9,198.6C806.3,198.7 809.2,198.9 812.8,199.5C816.5,200.1 819.8,200.9 823.8,202.2C827.7,203.5 832.1,205.4 836.2,207.2C840.4,209.0 844.1,211.0 848.8,213.2C853.4,215.4 859.2,217.9 864.4,220.5C869.6,223.2 874.8,226.1 880.0,229.1C885.2,232.2 890.4,235.8 895.6,238.9C900.8,242.1 906.6,245.6 911.2,248.3C915.9,250.9 919.8,252.9 923.8,254.8C927.7,256.6 928.8,256.8 934.7,259.5C940.6,262.1 953.4,267.7 959.1,270.5C964.7,273.3 965.6,274.4 968.4,276.3C971.3,278.2 973.4,279.7 976.2,281.8C979.1,283.9 982.5,286.4 985.6,288.8C988.8,291.1 991.9,293.5 995.0,295.8C998.1,298.1 1001.2,300.5 1004.4,302.6C1007.5,304.6 1010.6,306.5 1013.8,308.1C1016.9,309.8 1020.0,311.2 1023.1,312.5C1026.2,313.8 1029.4,315.0 1032.5,315.9C1035.6,316.9 1038.8,317.6 1041.9,318.3C1045.0,318.9 1048.1,319.2 1051.2,319.7C1054.4,320.2 1057.5,320.7 1060.6,321.3C1063.8,321.9 1066.9,322.7 1070.0,323.3C1073.1,324.0 1076.2,324.5 1079.4,325.0C1082.5,325.5 1085.6,326.1 1088.8,326.6C1091.9,327.1 1095.0,327.8 1098.1,328.2C1101.2,328.6 1104.2,329.1 1107.5,329.1C1110.8,329.1 1114.7,328.6 1117.8,328.2C1120.9,327.7 1123.6,327.0 1126.2,326.5C1128.9,325.9 1131.4,325.2 1133.7,324.8C1136.1,324.4 1138.1,324.1 1140.3,324.1C1142.5,324.1 1144.6,324.4 1146.9,324.6C1149.1,324.8 1152.7,325.2 1153.9,325.3" stroke="#2178e6"/>
<path d="M6.2,586.9C7.6,586.3 11.5,584.7 14.1,583.3C16.7,582.0 19.5,580.5 21.9,578.7C24.2,576.9 25.8,574.5 28.1,572.5C30.5,570.5 32.8,568.8 35.9,566.7C39.1,564.6 43.5,562.0 46.9,559.8C50.3,557.6 52.9,555.7 56.2,553.3C59.6,551.0 63.5,548.5 67.2,545.6C70.8,542.7 74.7,539.0 78.1,535.9C81.5,532.8 84.4,529.8 87.5,527.0C90.6,524.1 93.5,521.6 96.9,519.0C100.3,516.4 104.6,512.9 107.8,511.4C111.1,509.8 113.8,510.2 116.4,509.6C119.0,509.0 121.2,508.5 123.4,507.5C125.7,506.5 126.8,505.2 129.7,503.6C132.6,502.0 137.2,499.5 140.6,498.1C144.0,496.6 146.9,495.7 150.0,494.7C153.1,493.8 156.4,492.7 159.4,492.3C162.4,491.8 165.1,492.0 168.0,491.9C170.8,491.9 173.8,492.2 176.6,491.9C179.3,491.6 182.1,490.7 184.4,490.0C186.7,489.3 188.4,488.9 190.3,487.8C192.2,486.6 193.5,485.6 195.8,483.3C198.1,480.9 201.4,476.6 204.1,473.6C206.7,470.6 209.3,467.7 211.9,465.3C214.5,462.9 216.8,461.6 219.7,459.2C222.6,456.8 226.2,453.9 229.1,451.1C231.9,448.3 234.5,444.9 236.9,442.4C239.2,439.9 240.8,438.4 243.1,435.9C245.5,433.5 248.6,430.4 250.9,427.6C253.3,424.8 255.2,421.7 257.2,418.9C259.1,416.2 260.7,414.3 262.7,411.0C264.6,407.7 266.8,402.7 268.9,399.3C271.0,395.8 272.7,394.0 275.2,390.1C277.6,386.1 280.9,380.3 283.4,375.5C285.8,370.7 287.9,365.4 290.0,361.4C292.1,357.5 293.8,354.9 296.2,351.9C298.7,349.0 302.4,346.0 304.8,343.8C307.3,341.5 309.1,340.2 311.1,338.6C313.0,336.9 314.3,335.3 316.6,333.8C318.8,332.4 321.8,331.0 324.4,330.0C327.0,328.9 329.6,328.1 332.2,327.6C334.8,327.0 337.7,326.6 340.0,326.9C342.3,327.2 343.9,328.4 346.2,329.2C348.6,330.0 351.5,330.9 354.1,331.7C356.7,332.6 359.3,333.4 361.9,334.2C364.5,335.0 366.9,336.2 369.7,336.5C372.5,336.8 376.0,336.3 378.8,336.2C381.5,336.0 383.4,336.4 386.2,335.7C389.1,335.0 392.5,333.6 395.6,332.0C398.8,330.4 401.5,328.6 405.0,325.9C408.5,323.2 413.3,319.3 416.7,315.6C420.1,311.9 422.8,307.0 425.3,303.6C427.8,300.2 429.2,298.0 431.6,295.1C433.9,292.2 436.8,289.2 439.4,286.2C442.0,283.3 443.9,281.4 447.2,277.6C450.5,273.8 456.2,267.4 459.3,263.5C462.4,259.7 463.2,257.8 465.9,254.5C468.7,251.1 472.3,245.9 475.7,243.6C479.1,241.3 483.5,240.9 486.2,240.5C489.0,240.1 489.9,240.7 492.5,241.2C495.1,241.7 499.0,243.1 501.9,243.4C504.7,243.6 507.1,242.9 509.7,242.6C512.3,242.2 514.6,241.9 517.5,241.5C520.4,241.0 523.8,241.0 526.9,240.1C530.0,239.2 533.1,238.2 536.2,236.3C539.4,234.3 542.2,231.3 545.6,228.5C549.0,225.7 552.7,222.0 556.6,219.4C560.4,216.8 564.9,214.6 568.8,212.7C572.6,210.8 576.0,209.2 579.4,208.0C582.7,206.9 585.6,205.9 588.8,205.7C591.9,205.6 595.0,206.6 598.1,207.0C601.2,207.5 604.4,208.5 607.5,208.5C610.6,208.6 613.8,207.9 616.9,207.2C620.0,206.5 622.6,205.2 626.2,204.1C629.9,203.1 634.6,201.8 638.8,200.9C642.9,200.1 647.1,199.5 651.2,198.9C655.4,198.3 659.6,198.1 663.8,197.5C667.9,196.8 672.6,195.9 676.2,194.8C679.9,193.7 682.8,191.9 685.6,190.8C688.5,189.6 691.1,188.4 693.4,187.8C695.8,187.2 697.6,187.0 699.7,187.0C701.8,187.1 703.6,187.5 705.9,188.2C708.3,189.0 710.9,190.1 713.8,191.5C716.6,192.9 720.0,194.6 723.1,196.6C726.2,198.5 729.4,201.5 732.5,203.0C735.6,204.4 738.4,204.9 741.9,205.2C745.3,205.5 749.4,205.2 753.1,204.9C756.9,204.5 760.9,203.5 764.4,203.2C767.8,202.9 770.6,203.1 773.8,203.0C776.9,202.9 780.0,202.9 783.1,202.5C786.2,202.1 789.6,200.9 792.5,200.7C795.4,200.4 798.0,200.3 800.3,200.9C802.7,201.5 804.2,202.6 806.6,204.0C808.9,205.5 811.5,207.2 814.4,209.5C817.2,211.9 820.6,214.5 823.8,217.9C826.9,221.3 830.3,226.0 833.1,229.9C836.0,233.8 838.3,237.7 840.9,241.4C843.5,245.2 846.1,249.3 848.8,252.4C851.4,255.5 853.7,257.4 856.6,260.0C859.4,262.5 863.1,265.1 865.9,267.9C868.8,270.7 871.1,274.2 873.8,276.8C876.4,279.3 879.0,281.5 881.6,283.1C884.2,284.7 886.8,285.3 889.4,286.3C892.0,287.3 894.6,287.9 897.2,289.1C899.8,290.3 902.4,291.9 905.0,293.6C907.6,295.2 910.6,297.5 912.8,298.9C915.0,300.3 916.2,301.2 918.3,302.0C920.4,302.7 922.8,302.9 925.3,303.3C927.8,303.7 930.8,304.6 933.1,304.5C935.5,304.5 937.4,303.6 939.4,303.1C941.4,302.6 942.8,301.8 945.0,301.6C947.2,301.5 950.2,301.5 952.8,302.2C955.4,302.8 958.0,304.1 960.6,305.3C963.2,306.6 965.8,308.4 968.4,309.8C971.0,311.3 973.6,313.0 976.2,314.2C978.9,315.4 981.7,316.2 984.1,317.2C986.4,318.2 988.0,319.5 990.3,320.3C992.7,321.2 995.3,321.7 998.1,322.1C1001.0,322.5 1004.6,322.3 1007.5,322.6C1010.4,322.9 1012.7,323.4 1015.3,323.8C1017.9,324.2 1020.3,324.4 1023.1,324.8C1026.0,325.2 1029.4,325.8 1032.5,326.3C1035.6,326.8 1038.8,327.5 1041.9,328.0C1045.0,328.4 1048.4,328.7 1051.2,329.1C1054.1,329.4 1056.5,329.5 1059.1,330.0C1061.7,330.5 1064.3,331.1 1066.9,331.9C1069.5,332.7 1072.1,333.8 1074.7,335.0C1077.3,336.1 1079.9,337.6 1082.5,338.7C1085.1,339.8 1087.7,341.1 1090.3,341.7C1092.9,342.3 1095.5,342.3 1098.1,342.1C1100.7,341.9 1103.3,341.6 1105.9,340.6C1108.5,339.5 1111.1,338.0 1113.8,335.9C1116.4,333.9 1118.9,331.2 1121.6,328.5C1124.2,325.8 1127.3,322.1 1129.7,319.7C1132.0,317.3 1133.7,315.5 1135.6,314.0C1137.6,312.6 1139.4,311.7 1141.2,311.0C1143.1,310.2 1144.8,309.9 1146.9,309.5C1149.0,309.0 1152.7,308.6 1153.9,308.4" stroke="#0c8a6c"/>
</g>
<g clip-path="url(#cm)">
<line x1="8.75" y1="563.8" x2="8.75" y2="567.3" stroke="#858180" stroke-width="1"/>
<rect x="7.35" y="565.2" width="2.8" height="1.0" fill="#e25a41" stroke="#82251a" stroke-width="0.9"/>
<line x1="12.89" y1="565.8" x2="12.89" y2="576.7" stroke="#858180" stroke-width="1"/>
<rect x="11.49" y="566.2" width="2.8" height="4.2" fill="#e25a41" stroke="#82251a" stroke-width="0.9"/>
<line x1="17.04" y1="561.1" x2="17.04" y2="575.5" stroke="#858180" stroke-width="1"/>
<rect x="15.64" y="561.4" width="2.8" height="9.1" fill="#66a882" stroke="#2d6b4a" stroke-width="0.9"/>
<line x1="21.18" y1="557.2" x2="21.18" y2="570.5" stroke="#858180" stroke-width="1"/>
<rect x="19.78" y="559.2" width="2.8" height="2.2" fill="#66a882" stroke="#2d6b4a" stroke-width="0.9"/>
<line x1="25.32" y1="531.4" x2="25.32" y2="559.2" stroke="#858180" stroke-width="1"/>
<rect x="23.92" y="533.8" width="2.8" height="25.0" fill="#66a882" stroke="#2d6b4a" stroke-width="0.9"/>
<line x1="29.46" y1="527.5" x2="29.46" y2="540.8" stroke="#858180" stroke-width="1"/>
<rect x="28.07" y="533.3" width="2.8" height="1.0" fill="#e25a41" stroke="#82251a" stroke-width="0.9"/>
<line x1="33.61" y1="531.4" x2="33.61" y2="556.4" stroke="#858180" stroke-width="1"/>
<rect x="32.21" y="533.8" width="2.8" height="12.8" fill="#e25a41" stroke="#82251a" stroke-width="0.9"/>
<line x1="37.75" y1="533.3" x2="37.75" y2="548.6" stroke="#858180" stroke-width="1"/>
<rect x="36.35" y="535.8" width="2.8" height="10.8" fill="#66a882" stroke="#2d6b4a" stroke-width="0.9"/>
<line x1="41.89" y1="529.4" x2="41.89" y2="547.0" stroke="#858180" stroke-width="1"/>
<rect x="40.49" y="535.8" width="2.8" height="1.9" fill="#e25a41" stroke="#82251a" stroke-width="0.9"/>
<line x1="46.04" y1="535.3" x2="46.04" y2="542.3" stroke="#858180" stroke-width="1"/>
<rect x="44.64" y="537.7" width="2.8" height="1.0" fill="#e25a41" stroke="#82251a" stroke-width="0.9"/>
<line x1="50.18" y1="527.5" x2="50.18" y2="538.8" stroke="#858180" stroke-width="1"/>
<rect x="48.78" y="532.2" width="2.8" height="5.9" fill="#66a882" stroke="#2d6b4a" stroke-width="0.9"/>
<line x1="54.32" y1="522.0" x2="54.32" y2="536.1" stroke="#858180" stroke-width="1"/>
<rect x="52.92" y="522.3" width="2.8" height="9.5" fill="#66a882" stroke="#2d6b4a" stroke-width="0.9"/>
<line x1="58.47" y1="519.4" x2="58.47" y2="527.5" stroke="#858180" stroke-width="1"/>
<rect x="57.07" y="522.0" width="2.8" height="1.0" fill="#66a882" stroke="#2d6b4a" stroke-width="0.9"/>
<line x1="62.61" y1="521.6" x2="62.61" y2="531.4" stroke="#858180" stroke-width="1"/>
<rect x="61.21" y="522.3" width="2.8" height="3.3" fill="#e25a41" stroke="#82251a" stroke-width="0.9"/>
<line x1="66.75" y1="524.4" x2="66.75" y2="530.3" stroke="#858180" stroke-width="1"/>
<rect x="65.35" y="525.9" width="2.8" height="1.6" fill="#e25a41" stroke="#82251a" stroke-width="0.9"/>
<line x1="70.89" y1="513.4" x2="70.89" y2="528.3" stroke="#858180" stroke-width="1"/>
<rect x="69.49" y="515.8" width="2.8" height="11.7" fill="#66a882" stroke="#2d6b4a" stroke-width="0.9"/>
<line x1="75.04" y1="498.6" x2="75.04" y2="518.1" stroke="#858180" stroke-width="1"/>
<rect x="73.64" y="501.2" width="2.8" height="14.5" fill="#66a882" stroke="#2d6b4a" stroke-width="0.9"/>
<line x1="79.18" y1="489.5" x2="79.18" y2="508.8" stroke="#858180" stroke-width="1"/>
<rect x="77.78" y="499.7" width="2.8" height="1.9" fill="#66a882" stroke="#2d6b4a" stroke-width="0.9"/>
<line x1="83.32" y1="493.9" x2="83.32" y2="506.4" stroke="#858180" stroke-width="1"/>
<rect x="81.92" y="498.9" width="2.8" height="1.0" fill="#66a882" stroke="#2d6b4a" stroke-width="0.9"/>
<line x1="87.47" y1="485.0" x2="87.47" y2="499.7" stroke="#858180" stroke-width="1"/>
<rect x="86.07" y="487.2" width="2.8" height="11.9" fill="#66a882" stroke="#2d6b4a" stroke-width="0.9"/>
<line x1="91.61" y1="483.0" x2="91.61" y2="491.6" stroke="#858180" stroke-width="1"/>
<rect x="90.21" y="486.4" width="2.8" height="1.0" fill="#66a882" stroke="#2d6b4a" stroke-width="0.9"/>
<line x1="95.75" y1="486.1" x2="95.75" y2="502.5" stroke="#858180" stroke-width="1"/>
<rect x="94.35" y="486.4" width="2.8" height="4.1" fill="#e25a41" stroke="#82251a" stroke-width="0.9"/>
<line x1="99.90" y1="488.4" x2="99.90" y2="496.2" stroke="#858180" stroke-width="1"/>
<rect x="98.50" y="490.5" width="2.8" height="1.0" fill="#e25a41" stroke="#82251a" stroke-width="0.9"/>
<line x1="104.04" y1="476.2" x2="104.04" y2="495.5" stroke="#858180" stroke-width="1"/>
<rect x="102.64" y="480.3" width="2.8" height="10.5" fill="#66a882" stroke="#2d6b4a" stroke-width="0.9"/>
<line x1="108.18" y1="476.2" x2="108.18" y2="489.5" stroke="#858180" stroke-width="1"/>
<rect x="106.78" y="480.3" width="2.8" height="6.1" fill="#e25a41" stroke="#82251a" stroke-width="0.9"/>
<line x1="112.32" y1="484.1" x2="112.32" y2="523.6" stroke="#858180" stroke-width="1"/>
<rect x="110.92" y="486.9" width="2.8" height="21.9" fill="#e25a41" stroke="#82251a" stroke-width="0.9"/>
<line x1="116.47" y1="504.1" x2="116.47" y2="520.5" stroke="#858180" stroke-width="1"/>
<rect x="115.07" y="509.1" width="2.8" height="1.0" fill="#e25a41" stroke="#82251a" stroke-width="0.9"/>
<line x1="120.61" y1="498.1" x2="120.61" y2="513.4" stroke="#858180" stroke-width="1"/>
<rect x="119.21" y="500.6" width="2.8" height="8.6" fill="#66a882" stroke="#2d6b4a" stroke-width="0.9"/>
<line x1="124.75" y1="491.2" x2="124.75" y2="503.3" stroke="#858180" stroke-width="1"/>
<rect x="123.35" y="494.2" width="2.8" height="6.4" fill="#66a882" stroke="#2d6b4a" stroke-width="0.9"/>
<line x1="128.90" y1="471.2" x2="128.90" y2="494.2" stroke="#858180" stroke-width="1"/>
<rect x="127.50" y="473.1" width="2.8" height="20.5" fill="#66a882" stroke="#2d6b4a" stroke-width="0.9"/>
<line x1="133.04" y1="470.5" x2="133.04" y2="495.5" stroke="#858180" stroke-width="1"/>
<rect x="131.64" y="473.1" width="2.8" height="12.5" fill="#e25a41" stroke="#82251a" stroke-width="0.9"/>
<line x1="137.18" y1="478.3" x2="137.18" y2="491.9" stroke="#858180" stroke-width="1"/>
<rect x="135.78" y="479.8" width="2.8" height="5.8" fill="#66a882" stroke="#2d6b4a" stroke-width="0.9"/>
<line x1="141.33" y1="474.4" x2="141.33" y2="484.5" stroke="#858180" stroke-width="1"/>
<rect x="139.93" y="477.2" width="2.8" height="2.7" fill="#66a882" stroke="#2d6b4a" stroke-width="0.9"/>
<line x1="145.47" y1="475.6" x2="145.47" y2="488.4" stroke="#858180" stroke-width="1"/>
<rect x="144.07" y="477.2" width="2.8" height="10.2" fill="#e25a41" stroke="#82251a" stroke-width="0.9"/>
<line x1="149.61" y1="480.2" x2="149.61" y2="489.5" stroke="#858180" stroke-width="1"/>
<rect x="148.21" y="480.6" width="2.8" height="6.7" fill="#66a882" stroke="#2d6b4a" stroke-width="0.9"/>
<line x1="153.75" y1="476.7" x2="153.75" y2="484.5" stroke="#858180" stroke-width="1"/>
<rect x="152.35" y="477.8" width="2.8" height="2.8" fill="#66a882" stroke="#2d6b4a" stroke-width="0.9"/>
<line x1="157.90" y1="477.2" x2="157.90" y2="483.8" stroke="#858180" stroke-width="1"/>
<rect x="156.50" y="478.0" width="2.8" height="1.9" fill="#e25a41" stroke="#82251a" stroke-width="0.9"/>
<line x1="162.04" y1="478.8" x2="162.04" y2="493.9" stroke="#858180" stroke-width="1"/>
<rect x="160.64" y="480.2" width="2.8" height="11.7" fill="#e25a41" stroke="#82251a" stroke-width="0.9"/>
<line x1="166.18" y1="488.1" x2="166.18" y2="502.0" stroke="#858180" stroke-width="1"/>
<rect x="164.78" y="489.5" width="2.8" height="2.3" fill="#66a882" stroke="#2d6b4a" stroke-width="0.9"/>
<line x1="170.33" y1="488.8" x2="170.33" y2="498.1" stroke="#858180" stroke-width="1"/>
<rect x="168.93" y="489.5" width="2.8" height="3.3" fill="#e25a41" stroke="#82251a" stroke-width="0.9"/>
<line x1="174.47" y1="492.3" x2="174.47" y2="503.0" stroke="#858180" stroke-width="1"/>
<rect x="173.07" y="493.1" width="2.8" height="3.1" fill="#e25a41" stroke="#82251a" stroke-width="0.9"/>
<line x1="178.61" y1="483.4" x2="178.61" y2="496.7" stroke="#858180" stroke-width="1"/>
<rect x="177.21" y="485.0" width="2.8" height="11.2" fill="#66a882" stroke="#2d6b4a" stroke-width="0.9"/>
<line x1="182.76" y1="477.2" x2="182.76" y2="486.1" stroke="#858180" stroke-width="1"/>
<rect x="181.36" y="480.6" width="2.8" height="4.2" fill="#66a882" stroke="#2d6b4a" stroke-width="0.9"/>
<line x1="186.90" y1="478.8" x2="186.90" y2="482.2" stroke="#858180" stroke-width="1"/>
<rect x="185.50" y="479.5" width="2.8" height="1.1" fill="#66a882" stroke="#2d6b4a" stroke-width="0.9"/>
<line x1="191.04" y1="475.0" x2="191.04" y2="482.0" stroke="#858180" stroke-width="1"/>
<rect x="189.64" y="476.6" width="2.8" height="2.3" fill="#66a882" stroke="#2d6b4a" stroke-width="0.9"/>
<line x1="195.19" y1="450.0" x2="195.19" y2="478.1" stroke="#858180" stroke-width="1"/>
<rect x="193.78" y="451.9" width="2.8" height="24.7" fill="#66a882" stroke="#2d6b4a" stroke-width="0.9"/>
<line x1="199.33" y1="424.7" x2="199.33" y2="453.1" stroke="#858180" stroke-width="1"/>
<rect x="197.93" y="435.2" width="2.8" height="17.2" fill="#66a882" stroke="#2d6b4a" stroke-width="0.9"/>
<line x1="203.47" y1="430.0" x2="203.47" y2="440.6" stroke="#858180" stroke-width="1"/>
<rect x="202.07" y="432.0" width="2.8" height="3.1" fill="#66a882" stroke="#2d6b4a" stroke-width="0.9"/>
<line x1="207.61" y1="420.3" x2="207.61" y2="435.2" stroke="#858180" stroke-width="1"/>
<rect x="206.21" y="423.9" width="2.8" height="7.7" fill="#66a882" stroke="#2d6b4a" stroke-width="0.9"/>
<line x1="211.76" y1="419.5" x2="211.76" y2="432.0" stroke="#858180" stroke-width="1"/>
<rect x="210.36" y="424.2" width="2.8" height="3.4" fill="#e25a41" stroke="#82251a" stroke-width="0.9"/>
<line x1="215.90" y1="421.1" x2="215.90" y2="445.3" stroke="#858180" stroke-width="1"/>
<rect x="214.50" y="428.1" width="2.8" height="7.8" fill="#e25a41" stroke="#82251a" stroke-width="0.9"/>
<line x1="220.04" y1="423.8" x2="220.04" y2="440.3" stroke="#858180" stroke-width="1"/>
<rect x="218.64" y="424.2" width="2.8" height="11.7" fill="#66a882" stroke="#2d6b4a" stroke-width="0.9"/>
<line x1="224.19" y1="421.6" x2="224.19" y2="437.5" stroke="#858180" stroke-width="1"/>
<rect x="222.79" y="424.7" width="2.8" height="5.8" fill="#e25a41" stroke="#82251a" stroke-width="0.9"/>
<line x1="228.33" y1="425.0" x2="228.33" y2="436.7" stroke="#858180" stroke-width="1"/>
<rect x="226.93" y="425.3" width="2.8" height="5.2" fill="#66a882" stroke="#2d6b4a" stroke-width="0.9"/>
<line x1="232.47" y1="413.8" x2="232.47" y2="428.1" stroke="#858180" stroke-width="1"/>
<rect x="231.07" y="414.8" width="2.8" height="10.5" fill="#66a882" stroke="#2d6b4a" stroke-width="0.9"/>
<line x1="236.61" y1="393.8" x2="236.61" y2="416.9" stroke="#858180" stroke-width="1"/>
<rect x="235.21" y="396.9" width="2.8" height="17.7" fill="#66a882" stroke="#2d6b4a" stroke-width="0.9"/>
<line x1="240.76" y1="378.4" x2="240.76" y2="403.9" stroke="#858180" stroke-width="1"/>
<rect x="239.36" y="397.2" width="2.8" height="1.6" fill="#e25a41" stroke="#82251a" stroke-width="0.9"/>
<line x1="244.90" y1="387.5" x2="244.90" y2="400.0" stroke="#858180" stroke-width="1"/>
<rect x="243.50" y="391.1" width="2.8" height="7.7" fill="#66a882" stroke="#2d6b4a" stroke-width="0.9"/>
<line x1="249.04" y1="387.8" x2="249.04" y2="402.8" stroke="#858180" stroke-width="1"/>
<rect x="247.64" y="388.6" width="2.8" height="2.0" fill="#66a882" stroke="#2d6b4a" stroke-width="0.9"/>
<line x1="253.19" y1="372.3" x2="253.19" y2="389.2" stroke="#858180" stroke-width="1"/>
<rect x="251.79" y="373.9" width="2.8" height="14.4" fill="#66a882" stroke="#2d6b4a" stroke-width="0.9"/>
<line x1="257.33" y1="370.0" x2="257.33" y2="381.7" stroke="#858180" stroke-width="1"/>
<rect x="255.93" y="372.8" width="2.8" height="1.1" fill="#66a882" stroke="#2d6b4a" stroke-width="0.9"/>
<line x1="261.47" y1="366.9" x2="261.47" y2="375.5" stroke="#858180" stroke-width="1"/>
<rect x="260.07" y="370.0" width="2.8" height="3.1" fill="#66a882" stroke="#2d6b4a" stroke-width="0.9"/>
<line x1="265.62" y1="337.2" x2="265.62" y2="372.3" stroke="#858180" stroke-width="1"/>
<rect x="264.22" y="346.1" width="2.8" height="23.4" fill="#66a882" stroke="#2d6b4a" stroke-width="0.9"/>
<line x1="269.76" y1="325.5" x2="269.76" y2="346.6" stroke="#858180" stroke-width="1"/>
<rect x="268.36" y="339.1" width="2.8" height="7.0" fill="#66a882" stroke="#2d6b4a" stroke-width="0.9"/>
<line x1="273.90" y1="334.1" x2="273.90" y2="385.2" stroke="#858180" stroke-width="1"/>
<rect x="272.50" y="339.2" width="2.8" height="8.4" fill="#e25a41" stroke="#82251a" stroke-width="0.9"/>
<line x1="278.04" y1="327.8" x2="278.04" y2="365.3" stroke="#858180" stroke-width="1"/>
<rect x="276.64" y="331.7" width="2.8" height="15.6" fill="#66a882" stroke="#2d6b4a" stroke-width="0.9"/>
<line x1="282.19" y1="309.8" x2="282.19" y2="336.9" stroke="#858180" stroke-width="1"/>
<rect x="280.79" y="310.9" width="2.8" height="20.5" fill="#66a882" stroke="#2d6b4a" stroke-width="0.9"/>
<line x1="286.33" y1="287.2" x2="286.33" y2="315.6" stroke="#858180" stroke-width="1"/>
<rect x="284.93" y="293.0" width="2.8" height="17.7" fill="#66a882" stroke="#2d6b4a" stroke-width="0.9"/>
<line x1="290.47" y1="277.0" x2="290.47" y2="313.4" stroke="#858180" stroke-width="1"/>
<rect x="289.07" y="285.2" width="2.8" height="7.5" fill="#66a882" stroke="#2d6b4a" stroke-width="0.9"/>
<line x1="294.62" y1="280.9" x2="294.62" y2="297.8" stroke="#858180" stroke-width="1"/>
<rect x="293.22" y="285.6" width="2.8" height="2.0" fill="#e25a41" stroke="#82251a" stroke-width="0.9"/>
<line x1="298.76" y1="280.2" x2="298.76" y2="328.6" stroke="#858180" stroke-width="1"/>
<rect x="297.36" y="288.3" width="2.8" height="13.8" fill="#e25a41" stroke="#82251a" stroke-width="0.9"/>
<line x1="302.90" y1="301.2" x2="302.90" y2="363.8" stroke="#858180" stroke-width="1"/>
<rect x="301.50" y="302.0" width="2.8" height="18.4" fill="#e25a41" stroke="#82251a" stroke-width="0.9"/>
<line x1="307.05" y1="313.0" x2="307.05" y2="343.4" stroke="#858180" stroke-width="1"/>
<rect x="305.65" y="320.8" width="2.8" height="10.6" fill="#e25a41" stroke="#82251a" stroke-width="0.9"/>
<line x1="311.19" y1="303.6" x2="311.19" y2="345.0" stroke="#858180" stroke-width="1"/>
<rect x="309.79" y="307.2" width="2.8" height="24.2" fill="#66a882" stroke="#2d6b4a" stroke-width="0.9"/>
<line x1="315.33" y1="289.1" x2="315.33" y2="311.4" stroke="#858180" stroke-width="1"/>
<rect x="313.93" y="295.5" width="2.8" height="11.6" fill="#66a882" stroke="#2d6b4a" stroke-width="0.9"/>
<line x1="319.47" y1="291.9" x2="319.47" y2="330.2" stroke="#858180" stroke-width="1"/>
<rect x="318.07" y="295.8" width="2.8" height="15.6" fill="#e25a41" stroke="#82251a" stroke-width="0.9"/>
<line x1="323.62" y1="302.8" x2="323.62" y2="321.6" stroke="#858180" stroke-width="1"/>
<rect x="322.22" y="311.9" width="2.8" height="5.0" fill="#e25a41" stroke="#82251a" stroke-width="0.9"/>
<line x1="327.76" y1="310.9" x2="327.76" y2="333.3" stroke="#858180" stroke-width="1"/>
<rect x="326.36" y="316.9" width="2.8" height="1.6" fill="#e25a41" stroke="#82251a" stroke-width="0.9"/>
<line x1="331.90" y1="307.2" x2="331.90" y2="327.0" stroke="#858180" stroke-width="1"/>
<rect x="330.50" y="313.0" width="2.8" height="5.5" fill="#66a882" stroke="#2d6b4a" stroke-width="0.9"/>
<line x1="336.05" y1="304.1" x2="336.05" y2="318.4" stroke="#858180" stroke-width="1"/>
<rect x="334.65" y="313.0" width="2.8" height="4.4" fill="#e25a41" stroke="#82251a" stroke-width="0.9"/>
<line x1="340.19" y1="314.2" x2="340.19" y2="336.4" stroke="#858180" stroke-width="1"/>
<rect x="338.79" y="317.3" width="2.8" height="3.4" fill="#e25a41" stroke="#82251a" stroke-width="0.9"/>
<line x1="344.33" y1="320.0" x2="344.33" y2="364.5" stroke="#858180" stroke-width="1"/>
<rect x="342.93" y="321.1" width="2.8" height="35.3" fill="#e25a41" stroke="#82251a" stroke-width="0.9"/>
<line x1="348.48" y1="332.5" x2="348.48" y2="375.5" stroke="#858180" stroke-width="1"/>
<rect x="347.08" y="340.3" width="2.8" height="16.1" fill="#66a882" stroke="#2d6b4a" stroke-width="0.9"/>
<line x1="352.62" y1="335.9" x2="352.62" y2="352.0" stroke="#858180" stroke-width="1"/>
<rect x="351.22" y="340.3" width="2.8" height="6.2" fill="#e25a41" stroke="#82251a" stroke-width="0.9"/>
<line x1="356.76" y1="338.8" x2="356.76" y2="356.4" stroke="#858180" stroke-width="1"/>
<rect x="355.36" y="345.5" width="2.8" height="1.1" fill="#66a882" stroke="#2d6b4a" stroke-width="0.9"/>
<line x1="360.90" y1="325.0" x2="360.90" y2="348.6" stroke="#858180" stroke-width="1"/>
<rect x="359.50" y="345.0" width="2.8" height="1.0" fill="#e25a41" stroke="#82251a" stroke-width="0.9"/>
<line x1="365.05" y1="340.0" x2="365.05" y2="357.2" stroke="#858180" stroke-width="1"/>
<rect x="363.65" y="343.8" width="2.8" height="1.7" fill="#66a882" stroke="#2d6b4a" stroke-width="0.9"/>
<line x1="369.19" y1="343.1" x2="369.19" y2="371.6" stroke="#858180" stroke-width="1"/>
<rect x="367.79" y="343.8" width="2.8" height="16.9" fill="#e25a41" stroke="#82251a" stroke-width="0.9"/>
<line x1="373.33" y1="331.7" x2="373.33" y2="365.6" stroke="#858180" stroke-width="1"/>
<rect x="371.93" y="336.9" width="2.8" height="23.8" fill="#66a882" stroke="#2d6b4a" stroke-width="0.9"/>
<line x1="377.48" y1="298.9" x2="377.48" y2="347.7" stroke="#858180" stroke-width="1"/>
<rect x="376.08" y="329.8" width="2.8" height="6.6" fill="#66a882" stroke="#2d6b4a" stroke-width="0.9"/>
<line x1="381.62" y1="325.3" x2="381.62" y2="340.6" stroke="#858180" stroke-width="1"/>
<rect x="380.22" y="329.7" width="2.8" height="1.1" fill="#66a882" stroke="#2d6b4a" stroke-width="0.9"/>
<line x1="385.76" y1="328.4" x2="385.76" y2="345.6" stroke="#858180" stroke-width="1"/>
<rect x="384.36" y="329.7" width="2.8" height="8.9" fill="#e25a41" stroke="#82251a" stroke-width="0.9"/>
<line x1="389.91" y1="326.1" x2="389.91" y2="344.8" stroke="#858180" stroke-width="1"/>
<rect x="388.51" y="335.5" width="2.8" height="3.1" fill="#66a882" stroke="#2d6b4a" stroke-width="0.9"/>
<line x1="394.05" y1="317.5" x2="394.05" y2="336.2" stroke="#858180" stroke-width="1"/>
<rect x="392.65" y="321.1" width="2.8" height="14.4" fill="#66a882" stroke="#2d6b4a" stroke-width="0.9"/>
<line x1="398.19" y1="304.7" x2="398.19" y2="321.4" stroke="#858180" stroke-width="1"/>
<rect x="396.79" y="305.3" width="2.8" height="15.3" fill="#66a882" stroke="#2d6b4a" stroke-width="0.9"/>
<line x1="402.33" y1="298.0" x2="402.33" y2="315.9" stroke="#858180" stroke-width="1"/>
<rect x="400.94" y="305.3" width="2.8" height="4.4" fill="#e25a41" stroke="#82251a" stroke-width="0.9"/>
<line x1="406.48" y1="300.3" x2="406.48" y2="312.8" stroke="#858180" stroke-width="1"/>
<rect x="405.08" y="301.1" width="2.8" height="8.6" fill="#66a882" stroke="#2d6b4a" stroke-width="0.9"/>
<line x1="410.62" y1="283.1" x2="410.62" y2="301.6" stroke="#858180" stroke-width="1"/>
<rect x="409.22" y="294.8" width="2.8" height="5.9" fill="#66a882" stroke="#2d6b4a" stroke-width="0.9"/>
<line x1="414.76" y1="291.2" x2="414.76" y2="307.3" stroke="#858180" stroke-width="1"/>
<rect x="413.36" y="295.2" width="2.8" height="1.7" fill="#e25a41" stroke="#82251a" stroke-width="0.9"/>
<line x1="418.91" y1="248.8" x2="418.91" y2="302.7" stroke="#858180" stroke-width="1"/>
<rect x="417.51" y="251.1" width="2.8" height="45.8" fill="#66a882" stroke="#2d6b4a" stroke-width="0.9"/>
<line x1="423.05" y1="240.9" x2="423.05" y2="258.9" stroke="#858180" stroke-width="1"/>
<rect x="421.65" y="250.3" width="2.8" height="1.0" fill="#66a882" stroke="#2d6b4a" stroke-width="0.9"/>
<line x1="427.19" y1="245.6" x2="427.19" y2="266.7" stroke="#858180" stroke-width="1"/>
<rect x="425.79" y="250.8" width="2.8" height="9.2" fill="#e25a41" stroke="#82251a" stroke-width="0.9"/>
<line x1="431.34" y1="238.6" x2="431.34" y2="265.2" stroke="#858180" stroke-width="1"/>
<rect x="429.94" y="242.5" width="2.8" height="17.5" fill="#66a882" stroke="#2d6b4a" stroke-width="0.9"/>
<line x1="435.48" y1="237.8" x2="435.48" y2="251.9" stroke="#858180" stroke-width="1"/>
<rect x="434.08" y="242.8" width="2.8" height="2.8" fill="#e25a41" stroke="#82251a" stroke-width="0.9"/>
<line x1="439.62" y1="241.7" x2="439.62" y2="251.9" stroke="#858180" stroke-width="1"/>
<rect x="438.22" y="245.6" width="2.8" height="1.1" fill="#e25a41" stroke="#82251a" stroke-width="0.9"/>
<line x1="443.76" y1="233.1" x2="443.76" y2="247.2" stroke="#858180" stroke-width="1"/>
<rect x="442.37" y="238.9" width="2.8" height="7.5" fill="#66a882" stroke="#2d6b4a" stroke-width="0.9"/>
<line x1="447.91" y1="237.0" x2="447.91" y2="255.0" stroke="#858180" stroke-width="1"/>
<rect x="446.51" y="239.4" width="2.8" height="3.4" fill="#e25a41" stroke="#82251a" stroke-width="0.9"/>
<line x1="452.05" y1="228.4" x2="452.05" y2="248.0" stroke="#858180" stroke-width="1"/>
<rect x="450.65" y="236.2" width="2.8" height="6.6" fill="#66a882" stroke="#2d6b4a" stroke-width="0.9"/>
<line x1="456.19" y1="218.3" x2="456.19" y2="237.0" stroke="#858180" stroke-width="1"/>
<rect x="454.79" y="220.6" width="2.8" height="15.6" fill="#66a882" stroke="#2d6b4a" stroke-width="0.9"/>
<line x1="460.34" y1="218.3" x2="460.34" y2="227.7" stroke="#858180" stroke-width="1"/>
<rect x="458.94" y="220.9" width="2.8" height="2.8" fill="#e25a41" stroke="#82251a" stroke-width="0.9"/>
<line x1="464.48" y1="201.1" x2="464.48" y2="228.4" stroke="#858180" stroke-width="1"/>
<rect x="463.08" y="202.7" width="2.8" height="21.1" fill="#66a882" stroke="#2d6b4a" stroke-width="0.9"/>
<line x1="468.62" y1="195.3" x2="468.62" y2="212.0" stroke="#858180" stroke-width="1"/>
<rect x="467.22" y="201.9" width="2.8" height="1.0" fill="#e25a41" stroke="#82251a" stroke-width="0.9"/>
<line x1="472.77" y1="191.7" x2="472.77" y2="204.7" stroke="#858180" stroke-width="1"/>
<rect x="471.37" y="195.3" width="2.8" height="7.0" fill="#66a882" stroke="#2d6b4a" stroke-width="0.9"/>
<line x1="476.91" y1="194.8" x2="476.91" y2="250.0" stroke="#858180" stroke-width="1"/>
<rect x="475.51" y="195.6" width="2.8" height="15.3" fill="#e25a41" stroke="#82251a" stroke-width="0.9"/>
<line x1="481.05" y1="210.5" x2="481.05" y2="260.5" stroke="#858180" stroke-width="1"/>
<rect x="479.65" y="211.2" width="2.8" height="26.2" fill="#e25a41" stroke="#82251a" stroke-width="0.9"/>
<line x1="485.19" y1="223.8" x2="485.19" y2="247.2" stroke="#858180" stroke-width="1"/>
<rect x="483.80" y="233.1" width="2.8" height="4.4" fill="#66a882" stroke="#2d6b4a" stroke-width="0.9"/>
<line x1="489.34" y1="220.9" x2="489.34" y2="249.8" stroke="#858180" stroke-width="1"/>
<rect x="487.94" y="233.1" width="2.8" height="14.5" fill="#e25a41" stroke="#82251a" stroke-width="0.9"/>
<line x1="493.48" y1="240.2" x2="493.48" y2="264.4" stroke="#858180" stroke-width="1"/>
<rect x="492.08" y="248.0" width="2.8" height="3.6" fill="#e25a41" stroke="#82251a" stroke-width="0.9"/>
<line x1="497.62" y1="240.2" x2="497.62" y2="258.1" stroke="#858180" stroke-width="1"/>
<rect x="496.22" y="251.6" width="2.8" height="1.1" fill="#e25a41" stroke="#82251a" stroke-width="0.9"/>
<line x1="501.77" y1="248.8" x2="501.77" y2="270.6" stroke="#858180" stroke-width="1"/>
<rect x="500.37" y="252.7" width="2.8" height="5.0" fill="#e25a41" stroke="#82251a" stroke-width="0.9"/>
<line x1="505.91" y1="231.9" x2="505.91" y2="258.9" stroke="#858180" stroke-width="1"/>
<rect x="504.51" y="234.2" width="2.8" height="23.4" fill="#66a882" stroke="#2d6b4a" stroke-width="0.9"/>
<line x1="510.05" y1="230.8" x2="510.05" y2="248.0" stroke="#858180" stroke-width="1"/>
<rect x="508.65" y="234.4" width="2.8" height="5.0" fill="#e25a41" stroke="#82251a" stroke-width="0.9"/>
<line x1="514.20" y1="218.0" x2="514.20" y2="241.7" stroke="#858180" stroke-width="1"/>
<rect x="512.80" y="230.3" width="2.8" height="9.1" fill="#66a882" stroke="#2d6b4a" stroke-width="0.9"/>
<line x1="518.34" y1="222.2" x2="518.34" y2="245.6" stroke="#858180" stroke-width="1"/>
<rect x="516.94" y="230.3" width="2.8" height="10.3" fill="#e25a41" stroke="#82251a" stroke-width="0.9"/>
<line x1="522.48" y1="234.4" x2="522.48" y2="253.0" stroke="#858180" stroke-width="1"/>
<rect x="521.08" y="238.3" width="2.8" height="2.3" fill="#66a882" stroke="#2d6b4a" stroke-width="0.9"/>
<line x1="526.62" y1="235.5" x2="526.62" y2="247.2" stroke="#858180" stroke-width="1"/>
<rect x="525.23" y="237.5" width="2.8" height="1.1" fill="#66a882" stroke="#2d6b4a" stroke-width="0.9"/>
<line x1="530.77" y1="224.5" x2="530.77" y2="238.1" stroke="#858180" stroke-width="1"/>
<rect x="529.37" y="226.9" width="2.8" height="10.6" fill="#66a882" stroke="#2d6b4a" stroke-width="0.9"/>
<line x1="534.91" y1="219.1" x2="534.91" y2="236.2" stroke="#858180" stroke-width="1"/>
<rect x="533.51" y="219.8" width="2.8" height="6.7" fill="#66a882" stroke="#2d6b4a" stroke-width="0.9"/>
<line x1="539.05" y1="206.6" x2="539.05" y2="222.5" stroke="#858180" stroke-width="1"/>
<rect x="537.65" y="207.3" width="2.8" height="12.2" fill="#66a882" stroke="#2d6b4a" stroke-width="0.9"/>
<line x1="543.20" y1="195.9" x2="543.20" y2="216.7" stroke="#858180" stroke-width="1"/>
<rect x="541.80" y="203.1" width="2.8" height="4.2" fill="#66a882" stroke="#2d6b4a" stroke-width="0.9"/>
<line x1="547.34" y1="192.5" x2="547.34" y2="210.8" stroke="#858180" stroke-width="1"/>
<rect x="545.94" y="194.1" width="2.8" height="9.1" fill="#66a882" stroke="#2d6b4a" stroke-width="0.9"/>
<line x1="551.48" y1="193.3" x2="551.48" y2="206.9" stroke="#858180" stroke-width="1"/>
<rect x="550.08" y="194.4" width="2.8" height="2.3" fill="#e25a41" stroke="#82251a" stroke-width="0.9"/>
<line x1="555.63" y1="176.9" x2="555.63" y2="201.9" stroke="#858180" stroke-width="1"/>
<rect x="554.23" y="179.2" width="2.8" height="17.5" fill="#66a882" stroke="#2d6b4a" stroke-width="0.9"/>
<line x1="559.77" y1="177.3" x2="559.77" y2="189.4" stroke="#858180" stroke-width="1"/>
<rect x="558.37" y="179.2" width="2.8" height="9.4" fill="#e25a41" stroke="#82251a" stroke-width="0.9"/>
<line x1="563.91" y1="181.6" x2="563.91" y2="209.4" stroke="#858180" stroke-width="1"/>
<rect x="562.51" y="189.1" width="2.8" height="14.8" fill="#e25a41" stroke="#82251a" stroke-width="0.9"/>
<line x1="568.05" y1="197.5" x2="568.05" y2="215.2" stroke="#858180" stroke-width="1"/>
<rect x="566.65" y="198.4" width="2.8" height="5.5" fill="#66a882" stroke="#2d6b4a" stroke-width="0.9"/>
<line x1="572.20" y1="188.3" x2="572.20" y2="210.9" stroke="#858180" stroke-width="1"/>
<rect x="570.80" y="189.4" width="2.8" height="9.1" fill="#66a882" stroke="#2d6b4a" stroke-width="0.9"/>
<line x1="576.34" y1="184.1" x2="576.34" y2="197.7" stroke="#858180" stroke-width="1"/>
<rect x="574.94" y="189.4" width="2.8" height="5.6" fill="#e25a41" stroke="#82251a" stroke-width="0.9"/>
<line x1="580.48" y1="187.2" x2="580.48" y2="201.2" stroke="#858180" stroke-width="1"/>
<rect x="579.08" y="193.4" width="2.8" height="1.6" fill="#66a882" stroke="#2d6b4a" stroke-width="0.9"/>
<line x1="584.63" y1="185.2" x2="584.63" y2="194.5" stroke="#858180" stroke-width="1"/>
<rect x="583.23" y="192.5" width="2.8" height="1.0" fill="#66a882" stroke="#2d6b4a" stroke-width="0.9"/>
<line x1="588.77" y1="190.3" x2="588.77" y2="204.7" stroke="#858180" stroke-width="1"/>
<rect x="587.37" y="193.0" width="2.8" height="2.8" fill="#e25a41" stroke="#82251a" stroke-width="0.9"/>
<line x1="592.91" y1="191.9" x2="592.91" y2="212.5" stroke="#858180" stroke-width="1"/>
<rect x="591.51" y="196.1" width="2.8" height="15.2" fill="#e25a41" stroke="#82251a" stroke-width="0.9"/>
<line x1="597.06" y1="203.1" x2="597.06" y2="216.9" stroke="#858180" stroke-width="1"/>
<rect x="595.66" y="210.2" width="2.8" height="1.1" fill="#66a882" stroke="#2d6b4a" stroke-width="0.9"/>
<line x1="601.20" y1="196.9" x2="601.20" y2="223.4" stroke="#858180" stroke-width="1"/>
<rect x="599.80" y="210.2" width="2.8" height="10.2" fill="#e25a41" stroke="#82251a" stroke-width="0.9"/>
<line x1="605.34" y1="215.6" x2="605.34" y2="230.2" stroke="#858180" stroke-width="1"/>
<rect x="603.94" y="220.3" width="2.8" height="4.7" fill="#e25a41" stroke="#82251a" stroke-width="0.9"/>
<line x1="609.49" y1="206.2" x2="609.49" y2="225.8" stroke="#858180" stroke-width="1"/>
<rect x="608.09" y="207.3" width="2.8" height="17.7" fill="#66a882" stroke="#2d6b4a" stroke-width="0.9"/>
<line x1="613.63" y1="199.2" x2="613.63" y2="211.7" stroke="#858180" stroke-width="1"/>
<rect x="612.23" y="203.4" width="2.8" height="3.6" fill="#66a882" stroke="#2d6b4a" stroke-width="0.9"/>
<line x1="617.77" y1="200.0" x2="617.77" y2="208.6" stroke="#858180" stroke-width="1"/>
<rect x="616.37" y="203.1" width="2.8" height="1.0" fill="#e25a41" stroke="#82251a" stroke-width="0.9"/>
<line x1="621.91" y1="191.4" x2="621.91" y2="207.0" stroke="#858180" stroke-width="1"/>
<rect x="620.51" y="195.3" width="2.8" height="8.3" fill="#66a882" stroke="#2d6b4a" stroke-width="0.9"/>
<line x1="626.06" y1="187.2" x2="626.06" y2="198.8" stroke="#858180" stroke-width="1"/>
<rect x="624.66" y="190.2" width="2.8" height="5.2" fill="#66a882" stroke="#2d6b4a" stroke-width="0.9"/>
<line x1="630.20" y1="185.2" x2="630.20" y2="198.4" stroke="#858180" stroke-width="1"/>
<rect x="628.80" y="189.5" width="2.8" height="1.0" fill="#66a882" stroke="#2d6b4a" stroke-width="0.9"/>
<line x1="634.34" y1="186.7" x2="634.34" y2="193.8" stroke="#858180" stroke-width="1"/>
<rect x="632.94" y="189.8" width="2.8" height="1.0" fill="#e25a41" stroke="#82251a" stroke-width="0.9"/>
<line x1="638.49" y1="184.1" x2="638.49" y2="191.4" stroke="#858180" stroke-width="1"/>
<rect x="637.09" y="189.1" width="2.8" height="1.1" fill="#66a882" stroke="#2d6b4a" stroke-width="0.9"/>
<line x1="642.63" y1="185.6" x2="642.63" y2="198.4" stroke="#858180" stroke-width="1"/>
<rect x="641.23" y="189.1" width="2.8" height="8.6" fill="#e25a41" stroke="#82251a" stroke-width="0.9"/>
<line x1="646.77" y1="191.4" x2="646.77" y2="200.0" stroke="#858180" stroke-width="1"/>
<rect x="645.37" y="192.2" width="2.8" height="5.5" fill="#66a882" stroke="#2d6b4a" stroke-width="0.9"/>
<line x1="650.91" y1="187.5" x2="650.91" y2="197.7" stroke="#858180" stroke-width="1"/>
<rect x="649.51" y="188.3" width="2.8" height="3.9" fill="#66a882" stroke="#2d6b4a" stroke-width="0.9"/>
<line x1="655.06" y1="187.2" x2="655.06" y2="196.6" stroke="#858180" stroke-width="1"/>
<rect x="653.66" y="188.3" width="2.8" height="5.0" fill="#e25a41" stroke="#82251a" stroke-width="0.9"/>
<line x1="659.20" y1="190.9" x2="659.20" y2="205.8" stroke="#858180" stroke-width="1"/>
<rect x="657.80" y="193.3" width="2.8" height="9.4" fill="#e25a41" stroke="#82251a" stroke-width="0.9"/>
<line x1="663.34" y1="192.5" x2="663.34" y2="203.9" stroke="#858180" stroke-width="1"/>
<rect x="661.94" y="193.3" width="2.8" height="9.4" fill="#66a882" stroke="#2d6b4a" stroke-width="0.9"/>
<line x1="667.49" y1="189.1" x2="667.49" y2="195.3" stroke="#858180" stroke-width="1"/>
<rect x="666.09" y="192.5" width="2.8" height="1.0" fill="#66a882" stroke="#2d6b4a" stroke-width="0.9"/>
<line x1="671.63" y1="179.2" x2="671.63" y2="194.1" stroke="#858180" stroke-width="1"/>
<rect x="670.23" y="185.6" width="2.8" height="7.7" fill="#66a882" stroke="#2d6b4a" stroke-width="0.9"/>
<line x1="675.77" y1="181.2" x2="675.77" y2="188.0" stroke="#858180" stroke-width="1"/>
<rect x="674.37" y="184.4" width="2.8" height="1.2" fill="#66a882" stroke="#2d6b4a" stroke-width="0.9"/>
<line x1="679.92" y1="179.4" x2="679.92" y2="187.5" stroke="#858180" stroke-width="1"/>
<rect x="678.52" y="184.4" width="2.8" height="1.0" fill="#e25a41" stroke="#82251a" stroke-width="0.9"/>
<line x1="684.06" y1="168.8" x2="684.06" y2="185.6" stroke="#858180" stroke-width="1"/>
<rect x="682.66" y="169.2" width="2.8" height="15.9" fill="#66a882" stroke="#2d6b4a" stroke-width="0.9"/>
<line x1="688.20" y1="164.1" x2="688.20" y2="178.9" stroke="#858180" stroke-width="1"/>
<rect x="686.80" y="169.5" width="2.8" height="2.8" fill="#e25a41" stroke="#82251a" stroke-width="0.9"/>
<line x1="692.34" y1="168.4" x2="692.34" y2="175.8" stroke="#858180" stroke-width="1"/>
<rect x="690.94" y="171.1" width="2.8" height="1.0" fill="#66a882" stroke="#2d6b4a" stroke-width="0.9"/>
<line x1="696.49" y1="169.1" x2="696.49" y2="184.1" stroke="#858180" stroke-width="1"/>
<rect x="695.09" y="171.1" width="2.8" height="7.3" fill="#e25a41" stroke="#82251a" stroke-width="0.9"/>
<line x1="700.63" y1="173.8" x2="700.63" y2="185.2" stroke="#858180" stroke-width="1"/>
<rect x="699.23" y="178.4" width="2.8" height="5.6" fill="#e25a41" stroke="#82251a" stroke-width="0.9"/>
<line x1="704.77" y1="183.6" x2="704.77" y2="225.8" stroke="#858180" stroke-width="1"/>
<rect x="703.37" y="184.4" width="2.8" height="16.7" fill="#e25a41" stroke="#82251a" stroke-width="0.9"/>
<line x1="708.92" y1="195.0" x2="708.92" y2="211.2" stroke="#858180" stroke-width="1"/>
<rect x="707.52" y="201.1" width="2.8" height="2.8" fill="#e25a41" stroke="#82251a" stroke-width="0.9"/>
<line x1="713.06" y1="197.7" x2="713.06" y2="214.4" stroke="#858180" stroke-width="1"/>
<rect x="711.66" y="200.3" width="2.8" height="3.6" fill="#66a882" stroke="#2d6b4a" stroke-width="0.9"/>
<line x1="717.20" y1="199.2" x2="717.20" y2="213.8" stroke="#858180" stroke-width="1"/>
<rect x="715.80" y="200.3" width="2.8" height="12.7" fill="#e25a41" stroke="#82251a" stroke-width="0.9"/>
<line x1="721.35" y1="205.0" x2="721.35" y2="229.7" stroke="#858180" stroke-width="1"/>
<rect x="719.95" y="213.3" width="2.8" height="9.7" fill="#e25a41" stroke="#82251a" stroke-width="0.9"/>
<line x1="725.49" y1="221.1" x2="725.49" y2="245.6" stroke="#858180" stroke-width="1"/>
<rect x="724.09" y="223.0" width="2.8" height="2.8" fill="#e25a41" stroke="#82251a" stroke-width="0.9"/>
<line x1="729.63" y1="225.5" x2="729.63" y2="238.6" stroke="#858180" stroke-width="1"/>
<rect x="728.23" y="226.1" width="2.8" height="5.5" fill="#e25a41" stroke="#82251a" stroke-width="0.9"/>
<line x1="733.77" y1="228.9" x2="733.77" y2="247.7" stroke="#858180" stroke-width="1"/>
<rect x="732.38" y="231.2" width="2.8" height="5.2" fill="#e25a41" stroke="#82251a" stroke-width="0.9"/>
<line x1="737.92" y1="210.2" x2="737.92" y2="238.3" stroke="#858180" stroke-width="1"/>
<rect x="736.52" y="211.7" width="2.8" height="25.0" fill="#66a882" stroke="#2d6b4a" stroke-width="0.9"/>
<line x1="742.06" y1="205.5" x2="742.06" y2="214.8" stroke="#858180" stroke-width="1"/>
<rect x="740.66" y="207.3" width="2.8" height="4.1" fill="#66a882" stroke="#2d6b4a" stroke-width="0.9"/>
<line x1="746.20" y1="200.0" x2="746.20" y2="212.5" stroke="#858180" stroke-width="1"/>
<rect x="744.80" y="207.0" width="2.8" height="1.1" fill="#e25a41" stroke="#82251a" stroke-width="0.9"/>
<line x1="750.35" y1="207.0" x2="750.35" y2="219.5" stroke="#858180" stroke-width="1"/>
<rect x="748.95" y="208.1" width="2.8" height="5.6" fill="#e25a41" stroke="#82251a" stroke-width="0.9"/>
<line x1="754.49" y1="193.4" x2="754.49" y2="216.4" stroke="#858180" stroke-width="1"/>
<rect x="753.09" y="194.5" width="2.8" height="19.2" fill="#66a882" stroke="#2d6b4a" stroke-width="0.9"/>
<line x1="758.63" y1="190.6" x2="758.63" y2="197.7" stroke="#858180" stroke-width="1"/>
<rect x="757.23" y="194.1" width="2.8" height="1.0" fill="#66a882" stroke="#2d6b4a" stroke-width="0.9"/>
<line x1="762.78" y1="193.4" x2="762.78" y2="201.6" stroke="#858180" stroke-width="1"/>
<rect x="761.38" y="194.1" width="2.8" height="5.6" fill="#e25a41" stroke="#82251a" stroke-width="0.9"/>
<line x1="766.92" y1="188.8" x2="766.92" y2="200.3" stroke="#858180" stroke-width="1"/>
<rect x="765.52" y="197.3" width="2.8" height="2.3" fill="#66a882" stroke="#2d6b4a" stroke-width="0.9"/>
<line x1="771.06" y1="196.9" x2="771.06" y2="216.4" stroke="#858180" stroke-width="1"/>
<rect x="769.66" y="197.3" width="2.8" height="18.3" fill="#e25a41" stroke="#82251a" stroke-width="0.9"/>
<line x1="775.20" y1="193.4" x2="775.20" y2="217.5" stroke="#858180" stroke-width="1"/>
<rect x="773.80" y="195.3" width="2.8" height="20.3" fill="#66a882" stroke="#2d6b4a" stroke-width="0.9"/>
<line x1="779.35" y1="191.4" x2="779.35" y2="205.5" stroke="#858180" stroke-width="1"/>
<rect x="777.95" y="195.3" width="2.8" height="5.5" fill="#e25a41" stroke="#82251a" stroke-width="0.9"/>
<line x1="783.49" y1="189.8" x2="783.49" y2="206.2" stroke="#858180" stroke-width="1"/>
<rect x="782.09" y="196.1" width="2.8" height="4.7" fill="#66a882" stroke="#2d6b4a" stroke-width="0.9"/>
<line x1="787.63" y1="186.2" x2="787.63" y2="200.8" stroke="#858180" stroke-width="1"/>
<rect x="786.23" y="189.1" width="2.8" height="7.0" fill="#66a882" stroke="#2d6b4a" stroke-width="0.9"/>
<line x1="791.78" y1="187.2" x2="791.78" y2="200.8" stroke="#858180" stroke-width="1"/>
<rect x="790.38" y="189.4" width="2.8" height="2.8" fill="#e25a41" stroke="#82251a" stroke-width="0.9"/>
<line x1="795.92" y1="186.2" x2="795.92" y2="214.1" stroke="#858180" stroke-width="1"/>
<rect x="794.52" y="192.2" width="2.8" height="10.9" fill="#e25a41" stroke="#82251a" stroke-width="0.9"/>
<line x1="800.06" y1="198.4" x2="800.06" y2="209.7" stroke="#858180" stroke-width="1"/>
<rect x="798.66" y="199.2" width="2.8" height="3.9" fill="#66a882" stroke="#2d6b4a" stroke-width="0.9"/>
<line x1="804.21" y1="193.0" x2="804.21" y2="239.8" stroke="#858180" stroke-width="1"/>
<rect x="802.81" y="199.2" width="2.8" height="35.5" fill="#e25a41" stroke="#82251a" stroke-width="0.9"/>
<line x1="808.35" y1="219.1" x2="808.35" y2="253.6" stroke="#858180" stroke-width="1"/>
<rect x="806.95" y="233.1" width="2.8" height="1.2" fill="#66a882" stroke="#2d6b4a" stroke-width="0.9"/>
<line x1="812.49" y1="224.2" x2="812.49" y2="237.8" stroke="#858180" stroke-width="1"/>
<rect x="811.09" y="232.5" width="2.8" height="1.1" fill="#66a882" stroke="#2d6b4a" stroke-width="0.9"/>
<line x1="816.63" y1="228.1" x2="816.63" y2="250.0" stroke="#858180" stroke-width="1"/>
<rect x="815.24" y="232.5" width="2.8" height="16.7" fill="#e25a41" stroke="#82251a" stroke-width="0.9"/>
<line x1="820.78" y1="232.8" x2="820.78" y2="266.4" stroke="#858180" stroke-width="1"/>
<rect x="819.38" y="249.2" width="2.8" height="1.9" fill="#e25a41" stroke="#82251a" stroke-width="0.9"/>
<line x1="824.92" y1="250.5" x2="824.92" y2="276.6" stroke="#858180" stroke-width="1"/>
<rect x="823.52" y="251.1" width="2.8" height="16.6" fill="#e25a41" stroke="#82251a" stroke-width="0.9"/>
<line x1="829.06" y1="253.9" x2="829.06" y2="275.0" stroke="#858180" stroke-width="1"/>
<rect x="827.66" y="268.0" width="2.8" height="3.9" fill="#e25a41" stroke="#82251a" stroke-width="0.9"/>
<line x1="833.21" y1="268.0" x2="833.21" y2="364.5" stroke="#858180" stroke-width="1"/>
<rect x="831.81" y="272.2" width="2.8" height="39.5" fill="#e25a41" stroke="#82251a" stroke-width="0.9"/>
<line x1="837.35" y1="273.1" x2="837.35" y2="323.9" stroke="#858180" stroke-width="1"/>
<rect x="835.95" y="285.6" width="2.8" height="26.1" fill="#66a882" stroke="#2d6b4a" stroke-width="0.9"/>
<line x1="841.49" y1="274.7" x2="841.49" y2="335.6" stroke="#858180" stroke-width="1"/>
<rect x="840.09" y="285.6" width="2.8" height="21.9" fill="#e25a41" stroke="#82251a" stroke-width="0.9"/>
<line x1="845.64" y1="297.3" x2="845.64" y2="322.3" stroke="#858180" stroke-width="1"/>
<rect x="844.24" y="306.7" width="2.8" height="1.0" fill="#66a882" stroke="#2d6b4a" stroke-width="0.9"/>
<line x1="849.78" y1="301.2" x2="849.78" y2="354.8" stroke="#858180" stroke-width="1"/>
<rect x="848.38" y="306.7" width="2.8" height="19.1" fill="#e25a41" stroke="#82251a" stroke-width="0.9"/>
<line x1="853.92" y1="290.0" x2="853.92" y2="328.6" stroke="#858180" stroke-width="1"/>
<rect x="852.52" y="297.3" width="2.8" height="28.4" fill="#66a882" stroke="#2d6b4a" stroke-width="0.9"/>
<line x1="858.06" y1="290.3" x2="858.06" y2="313.8" stroke="#858180" stroke-width="1"/>
<rect x="856.66" y="297.3" width="2.8" height="3.1" fill="#e25a41" stroke="#82251a" stroke-width="0.9"/>
<line x1="862.21" y1="283.8" x2="862.21" y2="303.6" stroke="#858180" stroke-width="1"/>
<rect x="860.81" y="294.2" width="2.8" height="6.2" fill="#66a882" stroke="#2d6b4a" stroke-width="0.9"/>
<line x1="866.35" y1="286.9" x2="866.35" y2="308.8" stroke="#858180" stroke-width="1"/>
<rect x="864.95" y="294.2" width="2.8" height="5.5" fill="#e25a41" stroke="#82251a" stroke-width="0.9"/>
<line x1="870.49" y1="297.3" x2="870.49" y2="326.6" stroke="#858180" stroke-width="1"/>
<rect x="869.09" y="299.7" width="2.8" height="20.0" fill="#e25a41" stroke="#82251a" stroke-width="0.9"/>
<line x1="874.64" y1="307.5" x2="874.64" y2="334.4" stroke="#858180" stroke-width="1"/>
<rect x="873.24" y="319.7" width="2.8" height="7.0" fill="#e25a41" stroke="#82251a" stroke-width="0.9"/>
<line x1="878.78" y1="313.8" x2="878.78" y2="336.9" stroke="#858180" stroke-width="1"/>
<rect x="877.38" y="319.7" width="2.8" height="7.0" fill="#66a882" stroke="#2d6b4a" stroke-width="0.9"/>
<line x1="882.92" y1="306.2" x2="882.92" y2="330.2" stroke="#858180" stroke-width="1"/>
<rect x="881.52" y="308.3" width="2.8" height="11.2" fill="#66a882" stroke="#2d6b4a" stroke-width="0.9"/>
<line x1="887.07" y1="303.6" x2="887.07" y2="319.7" stroke="#858180" stroke-width="1"/>
<rect x="885.67" y="308.3" width="2.8" height="3.9" fill="#e25a41" stroke="#82251a" stroke-width="0.9"/>
<line x1="891.21" y1="301.2" x2="891.21" y2="317.7" stroke="#858180" stroke-width="1"/>
<rect x="889.81" y="306.2" width="2.8" height="5.9" fill="#66a882" stroke="#2d6b4a" stroke-width="0.9"/>
<line x1="895.35" y1="293.1" x2="895.35" y2="308.8" stroke="#858180" stroke-width="1"/>
<rect x="893.95" y="294.7" width="2.8" height="11.6" fill="#66a882" stroke="#2d6b4a" stroke-width="0.9"/>
<line x1="899.50" y1="294.2" x2="899.50" y2="320.0" stroke="#858180" stroke-width="1"/>
<rect x="898.10" y="295.0" width="2.8" height="15.6" fill="#e25a41" stroke="#82251a" stroke-width="0.9"/>
<line x1="903.64" y1="303.6" x2="903.64" y2="325.5" stroke="#858180" stroke-width="1"/>
<rect x="902.24" y="310.9" width="2.8" height="9.4" fill="#e25a41" stroke="#82251a" stroke-width="0.9"/>
<line x1="907.78" y1="313.8" x2="907.78" y2="323.9" stroke="#858180" stroke-width="1"/>
<rect x="906.38" y="318.8" width="2.8" height="1.6" fill="#66a882" stroke="#2d6b4a" stroke-width="0.9"/>
<line x1="911.92" y1="311.4" x2="911.92" y2="335.6" stroke="#858180" stroke-width="1"/>
<rect x="910.52" y="318.8" width="2.8" height="16.1" fill="#e25a41" stroke="#82251a" stroke-width="0.9"/>
<line x1="916.07" y1="330.9" x2="916.07" y2="355.9" stroke="#858180" stroke-width="1"/>
<rect x="914.67" y="335.3" width="2.8" height="1.1" fill="#e25a41" stroke="#82251a" stroke-width="0.9"/>
<line x1="920.21" y1="306.2" x2="920.21" y2="344.5" stroke="#858180" stroke-width="1"/>
<rect x="918.81" y="307.2" width="2.8" height="29.2" fill="#66a882" stroke="#2d6b4a" stroke-width="0.9"/>
<line x1="924.35" y1="299.7" x2="924.35" y2="318.4" stroke="#858180" stroke-width="1"/>
<rect x="922.95" y="307.2" width="2.8" height="5.0" fill="#e25a41" stroke="#82251a" stroke-width="0.9"/>
<line x1="928.50" y1="305.2" x2="928.50" y2="317.7" stroke="#858180" stroke-width="1"/>
<rect x="927.10" y="307.5" width="2.8" height="4.7" fill="#66a882" stroke="#2d6b4a" stroke-width="0.9"/>
<line x1="932.64" y1="306.7" x2="932.64" y2="326.6" stroke="#858180" stroke-width="1"/>
<rect x="931.24" y="307.5" width="2.8" height="12.8" fill="#e25a41" stroke="#82251a" stroke-width="0.9"/>
<line x1="936.78" y1="293.8" x2="936.78" y2="325.9" stroke="#858180" stroke-width="1"/>
<rect x="935.38" y="296.2" width="2.8" height="24.1" fill="#66a882" stroke="#2d6b4a" stroke-width="0.9"/>
<line x1="940.92" y1="283.3" x2="940.92" y2="297.3" stroke="#858180" stroke-width="1"/>
<rect x="939.52" y="286.1" width="2.8" height="10.0" fill="#66a882" stroke="#2d6b4a" stroke-width="0.9"/>
<line x1="945.07" y1="281.2" x2="945.07" y2="292.7" stroke="#858180" stroke-width="1"/>
<rect x="943.67" y="286.1" width="2.8" height="2.3" fill="#e25a41" stroke="#82251a" stroke-width="0.9"/>
<line x1="949.21" y1="286.9" x2="949.21" y2="302.0" stroke="#858180" stroke-width="1"/>
<rect x="947.81" y="288.4" width="2.8" height="12.3" fill="#e25a41" stroke="#82251a" stroke-width="0.9"/>
<line x1="953.35" y1="292.7" x2="953.35" y2="307.5" stroke="#858180" stroke-width="1"/>
<rect x="951.95" y="300.9" width="2.8" height="1.4" fill="#e25a41" stroke="#82251a" stroke-width="0.9"/>
<line x1="957.50" y1="301.2" x2="957.50" y2="323.1" stroke="#858180" stroke-width="1"/>
<rect x="956.10" y="302.3" width="2.8" height="15.3" fill="#e25a41" stroke="#82251a" stroke-width="0.9"/>
<line x1="961.64" y1="313.8" x2="961.64" y2="325.5" stroke="#858180" stroke-width="1"/>
<rect x="960.24" y="318.1" width="2.8" height="2.2" fill="#e25a41" stroke="#82251a" stroke-width="0.9"/>
<line x1="965.78" y1="316.1" x2="965.78" y2="336.9" stroke="#858180" stroke-width="1"/>
<rect x="964.38" y="320.0" width="2.8" height="1.0" fill="#66a882" stroke="#2d6b4a" stroke-width="0.9"/>
<line x1="969.93" y1="319.2" x2="969.93" y2="353.6" stroke="#858180" stroke-width="1"/>
<rect x="968.53" y="320.0" width="2.8" height="30.5" fill="#e25a41" stroke="#82251a" stroke-width="0.9"/>
<line x1="974.07" y1="337.2" x2="974.07" y2="374.7" stroke="#858180" stroke-width="1"/>
<rect x="972.67" y="343.1" width="2.8" height="7.3" fill="#66a882" stroke="#2d6b4a" stroke-width="0.9"/>
<line x1="978.21" y1="324.7" x2="978.21" y2="349.7" stroke="#858180" stroke-width="1"/>
<rect x="976.81" y="334.1" width="2.8" height="9.1" fill="#66a882" stroke="#2d6b4a" stroke-width="0.9"/>
<line x1="982.35" y1="322.3" x2="982.35" y2="345.0" stroke="#858180" stroke-width="1"/>
<rect x="980.95" y="327.3" width="2.8" height="6.7" fill="#66a882" stroke="#2d6b4a" stroke-width="0.9"/>
<line x1="986.50" y1="320.8" x2="986.50" y2="353.6" stroke="#858180" stroke-width="1"/>
<rect x="985.10" y="327.3" width="2.8" height="23.1" fill="#e25a41" stroke="#82251a" stroke-width="0.9"/>
<line x1="990.64" y1="341.9" x2="990.64" y2="363.0" stroke="#858180" stroke-width="1"/>
<rect x="989.24" y="345.5" width="2.8" height="5.0" fill="#66a882" stroke="#2d6b4a" stroke-width="0.9"/>
<line x1="994.78" y1="325.5" x2="994.78" y2="347.3" stroke="#858180" stroke-width="1"/>
<rect x="993.38" y="326.6" width="2.8" height="19.2" fill="#66a882" stroke="#2d6b4a" stroke-width="0.9"/>
<line x1="998.93" y1="322.3" x2="998.93" y2="332.5" stroke="#858180" stroke-width="1"/>
<rect x="997.53" y="326.6" width="2.8" height="1.2" fill="#e25a41" stroke="#82251a" stroke-width="0.9"/>
<line x1="1003.07" y1="312.2" x2="1003.07" y2="330.2" stroke="#858180" stroke-width="1"/>
<rect x="1001.67" y="318.4" width="2.8" height="9.4" fill="#66a882" stroke="#2d6b4a" stroke-width="0.9"/>
<line x1="1007.21" y1="316.1" x2="1007.21" y2="331.7" stroke="#858180" stroke-width="1"/>
<rect x="1005.81" y="318.4" width="2.8" height="5.2" fill="#e25a41" stroke="#82251a" stroke-width="0.9"/>
<line x1="1011.36" y1="323.1" x2="1011.36" y2="342.2" stroke="#858180" stroke-width="1"/>
<rect x="1009.96" y="323.9" width="2.8" height="11.7" fill="#e25a41" stroke="#82251a" stroke-width="0.9"/>
<line x1="1015.50" y1="331.7" x2="1015.50" y2="342.2" stroke="#858180" stroke-width="1"/>
<rect x="1014.10" y="333.3" width="2.8" height="2.3" fill="#66a882" stroke="#2d6b4a" stroke-width="0.9"/>
<line x1="1019.64" y1="325.0" x2="1019.64" y2="336.9" stroke="#858180" stroke-width="1"/>
<rect x="1018.24" y="326.2" width="2.8" height="7.0" fill="#66a882" stroke="#2d6b4a" stroke-width="0.9"/>
<line x1="1023.78" y1="317.3" x2="1023.78" y2="328.6" stroke="#858180" stroke-width="1"/>
<rect x="1022.38" y="322.3" width="2.8" height="3.9" fill="#66a882" stroke="#2d6b4a" stroke-width="0.9"/>
<line x1="1027.93" y1="321.6" x2="1027.93" y2="338.4" stroke="#858180" stroke-width="1"/>
<rect x="1026.53" y="322.3" width="2.8" height="11.4" fill="#e25a41" stroke="#82251a" stroke-width="0.9"/>
<line x1="1032.07" y1="323.9" x2="1032.07" y2="337.2" stroke="#858180" stroke-width="1"/>
<rect x="1030.67" y="330.5" width="2.8" height="3.3" fill="#66a882" stroke="#2d6b4a" stroke-width="0.9"/>
<line x1="1036.21" y1="323.4" x2="1036.21" y2="333.3" stroke="#858180" stroke-width="1"/>
<rect x="1034.81" y="330.5" width="2.8" height="2.0" fill="#e25a41" stroke="#82251a" stroke-width="0.9"/>
<line x1="1040.36" y1="331.7" x2="1040.36" y2="346.6" stroke="#858180" stroke-width="1"/>
<rect x="1038.96" y="332.5" width="2.8" height="8.1" fill="#e25a41" stroke="#82251a" stroke-width="0.9"/>
<line x1="1044.50" y1="331.2" x2="1044.50" y2="345.8" stroke="#858180" stroke-width="1"/>
<rect x="1043.10" y="333.3" width="2.8" height="7.3" fill="#66a882" stroke="#2d6b4a" stroke-width="0.9"/>
<line x1="1048.64" y1="331.7" x2="1048.64" y2="338.8" stroke="#858180" stroke-width="1"/>
<rect x="1047.24" y="333.3" width="2.8" height="2.0" fill="#e25a41" stroke="#82251a" stroke-width="0.9"/>
<line x1="1052.79" y1="327.5" x2="1052.79" y2="336.1" stroke="#858180" stroke-width="1"/>
<rect x="1051.39" y="329.4" width="2.8" height="5.9" fill="#66a882" stroke="#2d6b4a" stroke-width="0.9"/>
<line x1="1056.93" y1="327.0" x2="1056.93" y2="342.2" stroke="#858180" stroke-width="1"/>
<rect x="1055.53" y="329.7" width="2.8" height="9.1" fill="#e25a41" stroke="#82251a" stroke-width="0.9"/>
<line x1="1061.07" y1="337.5" x2="1061.07" y2="345.8" stroke="#858180" stroke-width="1"/>
<rect x="1059.67" y="339.1" width="2.8" height="2.5" fill="#e25a41" stroke="#82251a" stroke-width="0.9"/>
<line x1="1065.21" y1="338.8" x2="1065.21" y2="350.5" stroke="#858180" stroke-width="1"/>
<rect x="1063.81" y="341.1" width="2.8" height="1.0" fill="#66a882" stroke="#2d6b4a" stroke-width="0.9"/>
<line x1="1069.36" y1="338.3" x2="1069.36" y2="355.6" stroke="#858180" stroke-width="1"/>
<rect x="1067.96" y="341.4" width="2.8" height="7.2" fill="#e25a41" stroke="#82251a" stroke-width="0.9"/>
<line x1="1073.50" y1="345.5" x2="1073.50" y2="355.6" stroke="#858180" stroke-width="1"/>
<rect x="1072.10" y="348.9" width="2.8" height="3.6" fill="#e25a41" stroke="#82251a" stroke-width="0.9"/>
<line x1="1077.64" y1="348.1" x2="1077.64" y2="354.4" stroke="#858180" stroke-width="1"/>
<rect x="1076.24" y="351.2" width="2.8" height="1.1" fill="#66a882" stroke="#2d6b4a" stroke-width="0.9"/>
<line x1="1081.79" y1="344.2" x2="1081.79" y2="355.2" stroke="#858180" stroke-width="1"/>
<rect x="1080.39" y="349.7" width="2.8" height="1.6" fill="#66a882" stroke="#2d6b4a" stroke-width="0.9"/>
<line x1="1085.93" y1="348.1" x2="1085.93" y2="360.6" stroke="#858180" stroke-width="1"/>
<rect x="1084.53" y="349.4" width="2.8" height="8.1" fill="#e25a41" stroke="#82251a" stroke-width="0.9"/>
<line x1="1090.07" y1="355.2" x2="1090.07" y2="370.0" stroke="#858180" stroke-width="1"/>
<rect x="1088.67" y="357.5" width="2.8" height="8.1" fill="#e25a41" stroke="#82251a" stroke-width="0.9"/>
<line x1="1094.22" y1="341.1" x2="1094.22" y2="368.8" stroke="#858180" stroke-width="1"/>
<rect x="1092.82" y="346.1" width="2.8" height="19.5" fill="#66a882" stroke="#2d6b4a" stroke-width="0.9"/>
<line x1="1098.36" y1="342.2" x2="1098.36" y2="349.7" stroke="#858180" stroke-width="1"/>
<rect x="1096.96" y="345.3" width="2.8" height="1.0" fill="#66a882" stroke="#2d6b4a" stroke-width="0.9"/>
<line x1="1102.50" y1="333.8" x2="1102.50" y2="347.7" stroke="#858180" stroke-width="1"/>
<rect x="1101.10" y="334.8" width="2.8" height="10.5" fill="#66a882" stroke="#2d6b4a" stroke-width="0.9"/>
<line x1="1106.64" y1="328.1" x2="1106.64" y2="336.4" stroke="#858180" stroke-width="1"/>
<rect x="1105.24" y="330.2" width="2.8" height="4.7" fill="#66a882" stroke="#2d6b4a" stroke-width="0.9"/>
<line x1="1110.79" y1="320.8" x2="1110.79" y2="332.5" stroke="#858180" stroke-width="1"/>
<rect x="1109.39" y="321.6" width="2.8" height="8.3" fill="#66a882" stroke="#2d6b4a" stroke-width="0.9"/>
<line x1="1114.93" y1="285.4" x2="1114.93" y2="322.5" stroke="#858180" stroke-width="1"/>
<rect x="1113.53" y="308.1" width="2.8" height="13.4" fill="#66a882" stroke="#2d6b4a" stroke-width="0.9"/>
<line x1="1119.07" y1="292.9" x2="1119.07" y2="313.6" stroke="#858180" stroke-width="1"/>
<rect x="1117.67" y="293.4" width="2.8" height="14.5" fill="#66a882" stroke="#2d6b4a" stroke-width="0.9"/>
<line x1="1123.22" y1="283.6" x2="1123.22" y2="297.6" stroke="#858180" stroke-width="1"/>
<rect x="1121.82" y="289.4" width="2.8" height="4.0" fill="#66a882" stroke="#2d6b4a" stroke-width="0.9"/>
<line x1="1127.36" y1="285.9" x2="1127.36" y2="294.8" stroke="#858180" stroke-width="1"/>
<rect x="1125.96" y="289.2" width="2.8" height="1.0" fill="#66a882" stroke="#2d6b4a" stroke-width="0.9"/>
<line x1="1131.50" y1="275.1" x2="1131.50" y2="300.4" stroke="#858180" stroke-width="1"/>
<rect x="1130.10" y="275.8" width="2.8" height="13.6" fill="#66a882" stroke="#2d6b4a" stroke-width="0.9"/>
<line x1="1135.65" y1="274.2" x2="1135.65" y2="282.6" stroke="#858180" stroke-width="1"/>
<rect x="1134.25" y="275.9" width="2.8" height="3.7" fill="#e25a41" stroke="#82251a" stroke-width="0.9"/>
<line x1="1139.79" y1="273.2" x2="1139.79" y2="292.9" stroke="#858180" stroke-width="1"/>
<rect x="1138.39" y="280.3" width="2.8" height="10.1" fill="#e25a41" stroke="#82251a" stroke-width="0.9"/>
<line x1="1143.93" y1="286.6" x2="1143.93" y2="298.4" stroke="#858180" stroke-width="1"/>
<rect x="1142.53" y="290.6" width="2.8" height="4.4" fill="#e25a41" stroke="#82251a" stroke-width="0.9"/>
<line x1="1148.08" y1="291.2" x2="1148.08" y2="304.9" stroke="#858180" stroke-width="1"/>
<rect x="1146.67" y="295.5" width="2.8" height="6.1" fill="#e25a41" stroke="#82251a" stroke-width="0.9"/>
<line x1="1152.22" y1="299.3" x2="1152.22" y2="306.8" stroke="#858180" stroke-width="1"/>
<rect x="1150.82" y="302.1" width="2.8" height="1.0" fill="#e25a41" stroke="#82251a" stroke-width="0.9"/>
</g>
<line x1="1213" y1="41.5" x2="1213" y2="705.5" stroke="#9b938d" stroke-width="2"/>
<line x1="6.5" y1="136.5" x2="1273.5" y2="136.5" stroke="#6f6b69" stroke-width="1"/>
<line x1="6.5" y1="678.5" x2="1273.5" y2="678.5" stroke="#6f6b69" stroke-width="1"/>
<rect x="6.5" y="41.5" width="1267.0" height="664.0" fill="none" stroke="#6f6b69" stroke-width="1"/>
<g><line x1="1213" y1="64.5" x2="1217" y2="64.5" stroke="#55514f" stroke-width="1"/><text x="1222" y="68.8" font-size="10" fill="#55514f" textLength="24.5" lengthAdjust="spacingAndGlyphs">75.00</text></g>
<g><line x1="1213" y1="96.5" x2="1217" y2="96.5" stroke="#55514f" stroke-width="1"/><text x="1222" y="100.8" font-size="10" fill="#55514f" textLength="24.5" lengthAdjust="spacingAndGlyphs">50.00</text></g>
<g><line x1="1213" y1="128.5" x2="1217" y2="128.5" stroke="#55514f" stroke-width="1"/><text x="1222" y="132.8" font-size="10" fill="#55514f" textLength="24.5" lengthAdjust="spacingAndGlyphs">25.00</text></g>
<g clip-path="url(#ca)"><line x1="1213" y1="137.5" x2="1217" y2="137.5" stroke="#55514f" stroke-width="1"/><text x="1222" y="141.6" font-size="10" fill="#55514f" textLength="41.5" lengthAdjust="spacingAndGlyphs">72000.00</text></g>
<g clip-path="url(#ca)"><line x1="1213" y1="167.5" x2="1217" y2="167.5" stroke="#55514f" stroke-width="1"/><text x="1222" y="172.1" font-size="10" fill="#55514f" textLength="41.5" lengthAdjust="spacingAndGlyphs">64000.00</text></g>
<g clip-path="url(#ca)"><line x1="1213" y1="202.5" x2="1217" y2="202.5" stroke="#55514f" stroke-width="1"/><text x="1222" y="206.7" font-size="10" fill="#55514f" textLength="41.5" lengthAdjust="spacingAndGlyphs">56000.00</text></g>
<g clip-path="url(#ca)"><line x1="1213" y1="239.5" x2="1217" y2="239.5" stroke="#55514f" stroke-width="1"/><text x="1222" y="244.0" font-size="10" fill="#55514f" textLength="41.5" lengthAdjust="spacingAndGlyphs">48500.00</text></g>
<g clip-path="url(#ca)"><line x1="1213" y1="343.5" x2="1217" y2="343.5" stroke="#55514f" stroke-width="1"/><text x="1222" y="347.7" font-size="10" fill="#55514f" textLength="41.5" lengthAdjust="spacingAndGlyphs">32500.00</text></g>
<g clip-path="url(#ca)"><line x1="1213" y1="377.5" x2="1217" y2="377.5" stroke="#55514f" stroke-width="1"/><text x="1222" y="381.8" font-size="10" fill="#55514f" textLength="41.5" lengthAdjust="spacingAndGlyphs">28500.00</text></g>
<g clip-path="url(#ca)"><line x1="1213" y1="406.5" x2="1217" y2="406.5" stroke="#55514f" stroke-width="1"/><text x="1222" y="410.6" font-size="10" fill="#55514f" textLength="41.5" lengthAdjust="spacingAndGlyphs">25500.00</text></g>
<g clip-path="url(#ca)"><line x1="1213" y1="438.5" x2="1217" y2="438.5" stroke="#55514f" stroke-width="1"/><text x="1222" y="443.0" font-size="10" fill="#55514f" textLength="41.5" lengthAdjust="spacingAndGlyphs">22500.00</text></g>
<g clip-path="url(#ca)"><line x1="1213" y1="475.5" x2="1217" y2="475.5" stroke="#55514f" stroke-width="1"/><text x="1222" y="480.1" font-size="10" fill="#55514f" textLength="41.5" lengthAdjust="spacingAndGlyphs">19500.00</text></g>
<g clip-path="url(#ca)"><line x1="1213" y1="503.5" x2="1217" y2="503.5" stroke="#55514f" stroke-width="1"/><text x="1222" y="508.1" font-size="10" fill="#55514f" textLength="41.5" lengthAdjust="spacingAndGlyphs">17500.00</text></g>
<g clip-path="url(#ca)"><line x1="1213" y1="535.5" x2="1217" y2="535.5" stroke="#55514f" stroke-width="1"/><text x="1222" y="539.6" font-size="10" fill="#55514f" textLength="41.5" lengthAdjust="spacingAndGlyphs">15500.00</text></g>
<g clip-path="url(#ca)"><line x1="1213" y1="563.5" x2="1217" y2="563.5" stroke="#55514f" stroke-width="1"/><text x="1222" y="567.8" font-size="10" fill="#55514f" textLength="41.5" lengthAdjust="spacingAndGlyphs">13900.00</text></g>
<g clip-path="url(#ca)"><line x1="1213" y1="593.5" x2="1217" y2="593.5" stroke="#55514f" stroke-width="1"/><text x="1222" y="597.4" font-size="10" fill="#55514f" textLength="41.5" lengthAdjust="spacingAndGlyphs">12400.00</text></g>
<g clip-path="url(#ca)"><line x1="1213" y1="624.5" x2="1217" y2="624.5" stroke="#55514f" stroke-width="1"/><text x="1222" y="628.5" font-size="10" fill="#55514f" textLength="41.5" lengthAdjust="spacingAndGlyphs">11000.00</text></g>
<g clip-path="url(#ca)"><line x1="1213" y1="654.5" x2="1217" y2="654.5" stroke="#55514f" stroke-width="1"/><text x="1222" y="658.4" font-size="10" fill="#55514f" textLength="36" lengthAdjust="spacingAndGlyphs">9800.00</text></g>
<rect x="1230.5" y="143.5" width="25" height="15.5" rx="3" fill="#f2dfcf" stroke="#d9dce3" stroke-width="1"/>
<text x="1234" y="155" font-size="10" fill="#55514f" textLength="18.5" lengthAdjust="spacingAndGlyphs">USD</text>
<path d="M1212.7,269.9 H1267.5 a2,2 0 0 1 2,2 V282.9 a2,2 0 0 1 -2,2 H1212.7 Z" fill="#9c27b0"/>
<line x1="1213.5" y1="277.5" x2="1218.5" y2="277.5" stroke="#fff" stroke-width="1"/>
<text x="1222" y="281.7" font-size="10" fill="#fff" textLength="41.5" lengthAdjust="spacingAndGlyphs">41924.62</text>
<path d="M1212.7,364.0 H1267.5 a2,2 0 0 1 2,2 V377.0 a2,2 0 0 1 -2,2 H1212.7 Z" fill="#9c27b0"/>
<line x1="1213.5" y1="371.5" x2="1218.5" y2="371.5" stroke="#fff" stroke-width="1"/>
<text x="1222" y="375.8" font-size="10" fill="#fff" textLength="41.5" lengthAdjust="spacingAndGlyphs">29162.10</text>
<path d="M1212.7,295.0 H1267.5 a2,2 0 0 1 2,2 V320.5 a2,2 0 0 1 -2,2 H1212.7 Z" fill="#dd5341"/>
<line x1="1213.5" y1="302.5" x2="1218.5" y2="302.5" stroke="#fff" stroke-width="1"/>
<text x="1222" y="306.8" font-size="10" fill="#fff" textLength="41.5" lengthAdjust="spacingAndGlyphs">38061.53</text>
<text x="1222.5" y="319.8" font-size="10" fill="#fff" fill-opacity="0.8" textLength="40" lengthAdjust="spacingAndGlyphs">13:02:44</text>
<rect x="1165" y="295.0" width="46.7" height="15" rx="2" fill="#dd5341"/>
<text x="1170.3" y="306.8" font-size="10" fill="#fff" textLength="36" lengthAdjust="spacingAndGlyphs">BTCUSD</text>
<line x1="9.5" y1="678.5" x2="9.5" y2="683.5" stroke="#55514f" stroke-width="1"/>
<text x="7.5" y="695.6" font-size="10" fill="#55514f">ov</text>
<line x1="133.5" y1="678.5" x2="133.5" y2="683.5" stroke="#55514f" stroke-width="1"/>
<text x="133.5" y="695.6" font-size="10" fill="#55514f" text-anchor="middle">Dec</text>
<line x1="261.5" y1="678.5" x2="261.5" y2="683.5" stroke="#55514f" stroke-width="1"/>
<text x="261.5" y="695.6" font-size="10" fill="#55514f" text-anchor="middle" font-weight="bold">2021</text>
<line x1="390.5" y1="678.5" x2="390.5" y2="683.5" stroke="#55514f" stroke-width="1"/>
<text x="390.5" y="695.6" font-size="10" fill="#55514f" text-anchor="middle">Feb</text>
<line x1="506.5" y1="678.5" x2="506.5" y2="683.5" stroke="#55514f" stroke-width="1"/>
<text x="506.5" y="695.6" font-size="10" fill="#55514f" text-anchor="middle">Mar</text>
<line x1="634.5" y1="678.5" x2="634.5" y2="683.5" stroke="#55514f" stroke-width="1"/>
<text x="634.5" y="695.6" font-size="10" fill="#55514f" text-anchor="middle">Apr</text>
<line x1="759.5" y1="678.5" x2="759.5" y2="683.5" stroke="#55514f" stroke-width="1"/>
<text x="759.5" y="695.6" font-size="10" fill="#55514f" text-anchor="middle">May</text>
<line x1="887.5" y1="678.5" x2="887.5" y2="683.5" stroke="#55514f" stroke-width="1"/>
<text x="887.5" y="695.6" font-size="10" fill="#55514f" text-anchor="middle">Jun</text>
<line x1="1011.5" y1="678.5" x2="1011.5" y2="683.5" stroke="#55514f" stroke-width="1"/>
<text x="1011.5" y="695.6" font-size="10" fill="#55514f" text-anchor="middle">Jul</text>
<line x1="1140.5" y1="678.5" x2="1140.5" y2="683.5" stroke="#55514f" stroke-width="1"/>
<text x="1140.5" y="695.6" font-size="10" fill="#55514f" text-anchor="middle">Aug</text>
<text x="14" y="61" font-size="12" fill="#6b6765" textLength="74" lengthAdjust="spacingAndGlyphs">RSI (14, close)</text>
<text x="14" y="156.4" font-size="12" font-weight="bold" fill="#4a4644" textLength="192" lengthAdjust="spacingAndGlyphs">Bitcoin / U.S. Dollar, 1D, COINBASE</text>
<text x="14" y="172" font-size="12" fill="#4a4644" textLength="17" lengthAdjust="spacingAndGlyphs">Vol</text>
<text x="14" y="188" font-size="12" fill="#4a4644" textLength="76" lengthAdjust="spacingAndGlyphs">MA (50, close)</text>
<text x="14" y="204" font-size="12" fill="#4a4644" textLength="95" lengthAdjust="spacingAndGlyphs">EMA (20, close, 0)</text>
<text x="14" y="220" font-size="12" fill="#4a4644" textLength="102" lengthAdjust="spacingAndGlyphs">EMA (200, close, 0)</text>
<text x="5.6" y="15.3" font-size="13.5" fill="#1c1c28" font-weight="bold" textLength="75.3" lengthAdjust="spacingAndGlyphs">bitcoinwallah</text>
<text x="84.1" y="15.3" font-size="13.5" fill="#1c1c28" textLength="53.3" lengthAdjust="spacingAndGlyphs">published</text>
<text x="140.1" y="15.3" font-size="13.5" fill="#1c1c28" textLength="13.3" lengthAdjust="spacingAndGlyphs">on</text>
<text x="156.6" y="15.3" font-size="13.5" fill="#1c1c28" textLength="94.8" lengthAdjust="spacingAndGlyphs">TradingView.com,</text>
<text x="257.3" y="15.3" font-size="13.5" fill="#1c1c28" textLength="37.10000000000001" lengthAdjust="spacingAndGlyphs">August</text>
<text x="297.40000000000003" y="15.3" font-size="13.5" fill="#1c1c28" textLength="16.49999999999999" lengthAdjust="spacingAndGlyphs">04,</text>
<text x="317.8" y="15.3" font-size="13.5" fill="#1c1c28" textLength="25.100000000000012" lengthAdjust="spacingAndGlyphs">2021</text>
<text x="346.6" y="15.3" font-size="13.5" fill="#1c1c28" textLength="46.8" lengthAdjust="spacingAndGlyphs">06:57:18</text>
<text x="397.6" y="15.3" font-size="13.5" fill="#1c1c28" textLength="20.3" lengthAdjust="spacingAndGlyphs">EDT</text>
<text x="5.6" y="31.8" font-size="13.5" fill="#1c1c28" font-weight="bold" textLength="105.5" lengthAdjust="spacingAndGlyphs">COINBASE:BTCUSD,</text>
<text x="115.6" y="31.8" font-size="13.5" fill="#1c1c28" font-weight="bold" textLength="15.5" lengthAdjust="spacingAndGlyphs">1D</text>
<text x="137" y="31.8" font-size="13.5" fill="#1c1c28" textLength="49.5" lengthAdjust="spacingAndGlyphs">38061.53</text>
<path d="M189,23.2 h9.6 l-4.8,8.8 z" fill="#ef5350"/>
<text x="203.5" y="31.8" font-size="13.5" fill="#1c1c28" textLength="41.5" lengthAdjust="spacingAndGlyphs">−129.91</text>
<text x="248.6" y="31.8" font-size="13.5" fill="#1c1c28" textLength="47" lengthAdjust="spacingAndGlyphs">(−0.34%)</text>
<text x="299.6" y="31.8" font-size="13.5" fill="#1c1c28" font-weight="bold" textLength="12.6" lengthAdjust="spacingAndGlyphs">O:</text>
<text x="313.3" y="31.8" font-size="13.5" fill="#ef5350" textLength="50" lengthAdjust="spacingAndGlyphs">38189.40</text>
<text x="367" y="31.8" font-size="13.5" fill="#1c1c28" font-weight="bold" textLength="12.6" lengthAdjust="spacingAndGlyphs">H:</text>
<text x="380" y="31.8" font-size="13.5" fill="#ef5350" textLength="50" lengthAdjust="spacingAndGlyphs">38559.36</text>
<text x="434" y="31.8" font-size="13.5" fill="#1c1c28" font-weight="bold" textLength="9.4" lengthAdjust="spacingAndGlyphs">L:</text>
<text x="444.6" y="31.8" font-size="13.5" fill="#ef5350" textLength="50" lengthAdjust="spacingAndGlyphs">37509.00</text>
<text x="497.8" y="31.8" font-size="13.5" fill="#1c1c28" font-weight="bold" textLength="11.4" lengthAdjust="spacingAndGlyphs">C:</text>
<text x="510" y="31.8" font-size="13.5" fill="#ef5350" textLength="50" lengthAdjust="spacingAndGlyphs">38061.53</text>
<g fill="#131722"><path d="M5.9,717.1 H15.2 V727.3 H10.2 V720.7 H5.9 Z"/><circle cx="18.2" cy="718.7" r="1.7"/><path d="M21.0,717.1 H26.9 L23.0,727.3 H17.7 Z"/>
<text x="32" y="727.3" font-size="14" font-weight="bold" textLength="86.5" lengthAdjust="spacingAndGlyphs">TradingView</text></g>
</svg></body></html>
